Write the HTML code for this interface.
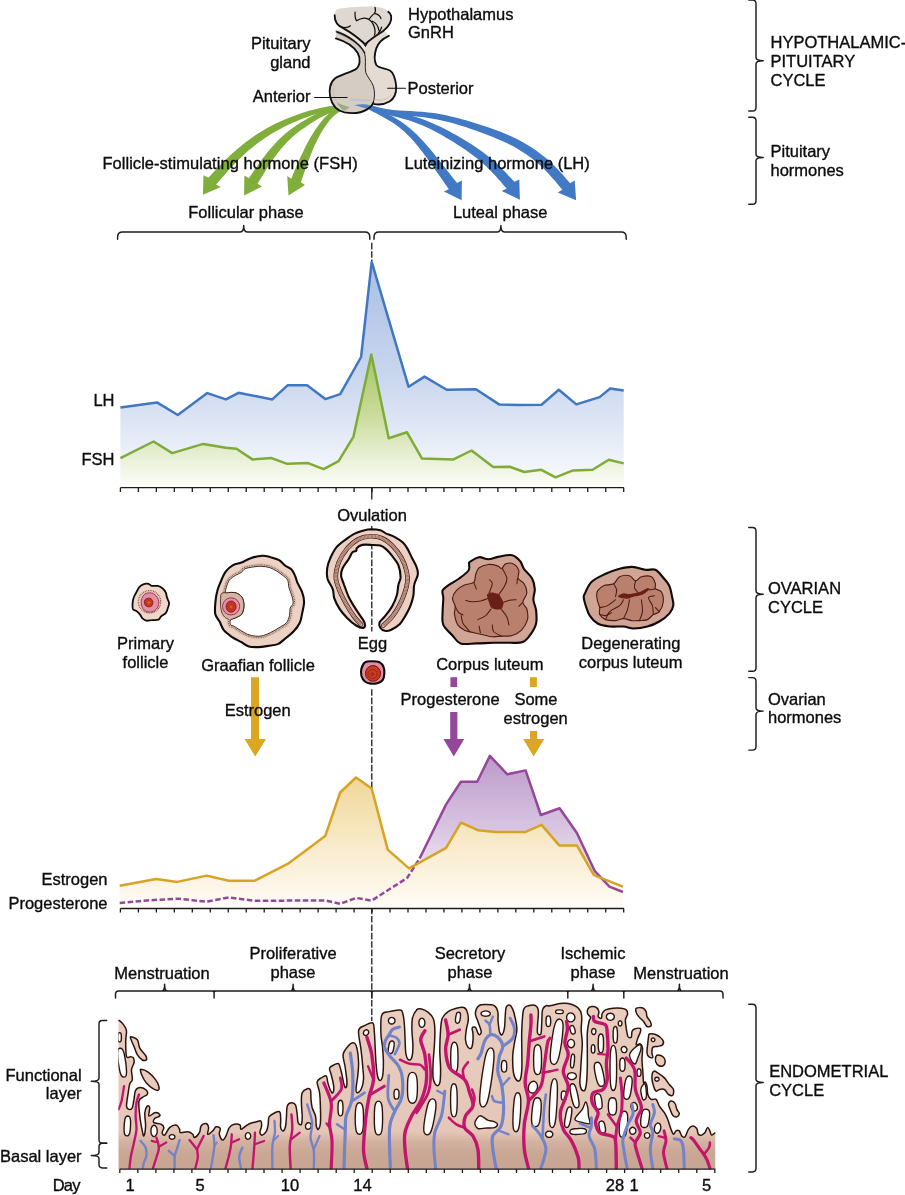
<!DOCTYPE html>
<html lang="en">
<head>
<meta charset="utf-8">
<title>Female reproductive cycle</title>
<style>
html,body{margin:0;padding:0;background:#fff;}
body{width:905px;height:1195px;overflow:hidden;}
svg{display:block;}
text{font-family:"Liberation Sans",Arial,Helvetica,sans-serif;font-size:16.5px;fill:#0c0c0c;stroke:#0c0c0c;stroke-width:0.35px;stroke-linejoin:round;}
.br{fill:none;stroke:#1c1c1c;stroke-width:1.45;stroke-linecap:round;stroke-linejoin:round;}
.ax{fill:none;stroke:#1c1c1c;stroke-width:1.3;}
.dash{fill:none;stroke:#1c1c1c;stroke-width:1.3;stroke-dasharray:6.6 1.8;}
</style>
</head>
<body>
<svg width="905" height="1195" viewBox="0 0 905 1195">
<defs>
<linearGradient id="gLH" x1="0" y1="262" x2="0" y2="488" gradientUnits="userSpaceOnUse">
<stop offset="0" stop-color="#a9bfe6"/><stop offset="0.5" stop-color="#c9d6ee"/><stop offset="1" stop-color="#fbfcfe"/>
</linearGradient>
<linearGradient id="gFSH" x1="0" y1="354" x2="0" y2="488" gradientUnits="userSpaceOnUse">
<stop offset="0" stop-color="#a6c462"/><stop offset="0.45" stop-color="#c9dc9a"/><stop offset="0.78" stop-color="#e9f0d8"/><stop offset="1" stop-color="#fdfefb"/>
</linearGradient>
<linearGradient id="gE" x1="0" y1="777" x2="0" y2="909" gradientUnits="userSpaceOnUse">
<stop offset="0" stop-color="#f0d796"/><stop offset="0.5" stop-color="#f8eaca"/><stop offset="0.85" stop-color="#fdf7ea"/><stop offset="1" stop-color="#fffefb"/>
</linearGradient>
<linearGradient id="gP" x1="0" y1="756" x2="0" y2="880" gradientUnits="userSpaceOnUse">
<stop offset="0" stop-color="#bc9aca"/><stop offset="0.6" stop-color="#d9c6e2"/><stop offset="1" stop-color="#f3ecf5"/>
</linearGradient>
</defs>
<rect width="905" height="1195" fill="#fff"/>

<g>
<polygon fill="#7fae3a" points="351.9,104.3 347.7,104.5 343.5,104.8 339.3,105.1 335.0,105.5 330.8,106.1 326.6,106.7 322.4,107.5 318.3,108.4 314.1,109.4 310.0,110.5 305.9,111.7 301.9,113.0 297.8,114.4 293.8,115.9 289.8,117.4 285.9,119.0 282.0,120.7 278.1,122.5 274.3,124.3 270.5,126.3 266.7,128.3 263.0,130.5 259.3,132.7 255.7,135.1 252.2,137.5 248.7,140.0 245.3,142.6 241.9,145.2 238.6,148.0 235.3,150.8 232.2,153.6 229.0,156.5 226.0,159.5 223.0,162.5 220.0,165.5 217.1,168.6 214.1,171.6 211.2,174.7 208.4,177.8 203.5,175.3 202.9,194.8 220.9,187.1 216.0,184.6 218.8,181.5 221.5,178.3 224.3,175.2 227.0,172.1 229.8,169.0 232.6,166.0 235.4,163.0 238.3,160.1 241.3,157.2 244.2,154.4 247.3,151.6 250.4,149.0 253.6,146.4 256.8,143.8 260.1,141.4 263.5,139.0 266.9,136.7 270.4,134.5 273.9,132.4 277.4,130.4 281.1,128.4 284.7,126.5 288.4,124.7 292.2,123.0 296.0,121.4 299.8,119.8 303.7,118.3 307.6,116.9 311.5,115.6 315.5,114.3 319.5,113.2 323.5,112.1 327.5,111.2 331.5,110.4 335.6,109.7 339.7,109.1 343.8,108.6 348.0,108.2 352.1,107.7"/>
<polygon fill="#7fae3a" points="351.8,104.3 348.5,104.6 345.1,105.0 341.8,105.4 338.5,106.0 335.2,106.6 331.9,107.5 328.6,108.5 325.5,109.7 322.3,111.0 319.2,112.4 316.2,113.9 313.2,115.4 310.2,117.0 307.2,118.7 304.3,120.4 301.4,122.1 298.6,123.9 295.8,125.7 293.0,127.7 290.2,129.7 287.6,131.8 284.9,133.9 282.4,136.2 279.9,138.6 277.5,141.0 275.1,143.4 272.9,146.0 270.6,148.5 268.5,151.1 266.3,153.8 264.3,156.4 262.2,159.1 260.2,161.8 258.3,164.6 256.4,167.3 254.5,170.0 252.6,172.8 250.7,175.5 248.9,178.2 244.4,175.4 244.1,195.4 262.0,186.6 257.5,183.8 259.2,181.0 260.9,178.2 262.7,175.4 264.4,172.6 266.1,169.8 267.9,167.1 269.7,164.4 271.5,161.7 273.3,159.0 275.2,156.4 277.2,153.8 279.1,151.2 281.2,148.7 283.3,146.3 285.4,143.9 287.6,141.6 289.9,139.4 292.2,137.2 294.6,135.1 297.1,133.1 299.6,131.1 302.2,129.2 304.9,127.4 307.6,125.5 310.3,123.8 313.1,122.0 315.9,120.3 318.7,118.6 321.6,117.1 324.4,115.6 327.3,114.2 330.3,112.9 333.3,111.8 336.3,110.9 339.4,110.1 342.5,109.4 345.7,108.8 348.9,108.2 352.2,107.7"/>
<polygon fill="#7fae3a" points="351.7,104.3 349.1,104.7 346.6,105.1 344.0,105.6 341.5,106.3 338.9,107.1 336.5,108.2 334.1,109.6 331.9,111.1 329.8,112.8 327.8,114.6 325.9,116.4 324.1,118.3 322.4,120.3 320.7,122.3 319.1,124.4 317.6,126.4 316.1,128.6 314.7,130.7 313.3,132.9 312.0,135.1 310.6,137.3 309.4,139.5 308.1,141.7 306.9,144.0 305.7,146.3 304.6,148.6 303.5,150.9 302.4,153.2 301.3,155.5 300.2,157.8 299.2,160.1 298.2,162.4 297.1,164.7 296.1,167.1 295.2,169.4 294.2,171.7 293.2,174.0 292.2,176.4 291.3,178.7 287.2,176.0 288.5,195.4 305.0,185.0 300.9,182.3 301.7,179.9 302.5,177.6 303.3,175.2 304.1,172.8 304.9,170.5 305.8,168.1 306.6,165.8 307.4,163.4 308.3,161.1 309.2,158.8 310.1,156.5 311.0,154.2 311.9,151.9 312.9,149.6 313.8,147.3 314.8,145.1 315.9,142.9 317.0,140.7 318.1,138.5 319.2,136.3 320.4,134.1 321.6,132.0 322.8,129.9 324.1,127.9 325.5,125.9 326.9,123.9 328.4,122.0 329.9,120.1 331.5,118.3 333.2,116.6 335.0,114.9 336.8,113.5 338.7,112.2 340.7,111.2 342.8,110.3 345.0,109.5 347.4,108.8 349.8,108.3 352.3,107.7"/>
<polygon fill="#4279c4" points="365.2,107.6 367.9,109.0 370.7,110.5 373.4,111.9 376.2,113.3 378.9,114.8 381.6,116.2 384.3,117.7 386.9,119.2 389.6,120.7 392.1,122.3 394.6,124.0 397.1,125.7 399.4,127.5 401.7,129.4 404.0,131.3 406.1,133.4 408.3,135.5 410.4,137.6 412.4,139.8 414.4,142.1 416.4,144.4 418.3,146.8 420.2,149.2 422.1,151.6 423.9,154.1 425.8,156.5 427.6,159.0 429.4,161.5 431.1,163.9 432.9,166.4 434.7,168.9 436.4,171.5 438.2,174.0 440.0,176.5 441.7,179.0 443.5,181.6 445.2,184.1 447.0,186.6 448.8,189.2 443.9,191.6 461.6,200.3 461.9,180.6 457.0,183.0 455.1,180.6 453.2,178.2 451.3,175.8 449.4,173.3 447.5,170.9 445.6,168.5 443.7,166.1 441.8,163.6 439.9,161.2 438.0,158.8 436.0,156.4 434.1,154.0 432.1,151.6 430.1,149.2 428.1,146.8 426.0,144.4 423.9,142.0 421.8,139.7 419.6,137.4 417.3,135.1 415.1,132.9 412.7,130.8 410.4,128.7 407.9,126.7 405.4,124.7 402.9,122.9 400.2,121.1 397.5,119.4 394.8,117.8 392.1,116.3 389.3,114.9 386.5,113.5 383.6,112.2 380.8,110.9 378.0,109.6 375.2,108.3 372.4,107.0 369.6,105.7 366.8,104.4"/>
<polygon fill="#4279c4" points="365.4,107.6 369.4,109.2 373.5,110.7 377.7,112.0 381.9,113.3 386.1,114.4 390.3,115.5 394.5,116.5 398.6,117.6 402.8,118.7 406.8,119.8 410.9,121.1 414.9,122.4 418.8,123.9 422.7,125.6 426.5,127.3 430.4,129.1 434.2,131.0 437.9,133.0 441.7,135.1 445.4,137.2 449.1,139.4 452.8,141.6 456.4,143.9 460.0,146.2 463.6,148.5 467.1,150.9 470.5,153.4 473.9,155.9 477.2,158.5 480.4,161.2 483.5,163.9 486.6,166.8 489.6,169.7 492.5,172.7 495.4,175.8 498.2,178.9 501.0,182.1 503.8,185.4 506.7,188.6 501.7,190.9 519.9,199.8 519.3,179.5 514.3,181.8 511.4,178.6 508.4,175.4 505.4,172.3 502.3,169.1 499.2,166.1 496.0,163.0 492.7,160.1 489.4,157.2 485.9,154.4 482.4,151.7 478.8,149.2 475.2,146.7 471.5,144.3 467.8,141.9 464.1,139.7 460.3,137.4 456.5,135.3 452.6,133.2 448.8,131.1 444.9,129.1 441.0,127.1 437.0,125.2 433.0,123.4 429.0,121.7 424.9,120.0 420.8,118.5 416.7,117.2 412.5,115.9 408.2,114.8 404.0,113.8 399.7,112.8 395.5,111.9 391.3,111.0 387.1,110.1 382.9,109.2 378.8,108.2 374.7,107.0 370.7,105.8 366.6,104.4"/>
<polygon fill="#4279c4" points="365.3,106.6 370.6,108.9 376.1,110.8 381.7,112.2 387.4,113.4 393.1,114.3 398.8,114.9 404.6,115.5 410.4,116.0 416.1,116.5 421.8,117.1 427.4,117.8 432.9,118.7 438.5,119.7 443.9,120.9 449.4,122.3 454.8,123.8 460.2,125.4 465.6,127.1 471.0,128.9 476.4,130.8 481.7,132.7 487.0,134.7 492.3,136.8 497.5,138.9 502.7,141.2 507.7,143.6 512.7,146.1 517.5,148.8 522.2,151.7 526.8,154.7 531.3,158.0 535.6,161.4 539.8,165.1 543.8,168.8 547.7,172.8 551.4,176.9 555.1,181.1 558.7,185.4 562.3,189.8 557.7,192.6 576.1,200.3 574.7,180.4 570.1,183.2 566.4,178.9 562.6,174.5 558.6,170.3 554.5,166.1 550.3,162.0 545.9,158.1 541.3,154.4 536.5,150.8 531.7,147.5 526.7,144.4 521.6,141.5 516.4,138.8 511.1,136.3 505.8,134.0 500.4,131.8 495.0,129.8 489.5,127.8 484.1,126.0 478.6,124.2 473.1,122.4 467.6,120.8 462.0,119.2 456.5,117.7 450.9,116.4 445.2,115.1 439.5,114.1 433.8,113.1 428.1,112.4 422.3,111.8 416.5,111.4 410.7,111.1 404.9,110.8 399.2,110.4 393.6,109.9 388.0,109.2 382.6,108.3 377.2,107.1 371.9,105.4 366.7,103.4"/>
</g>

<g transform="translate(310,0) scale(0.132597)" stroke-linecap="round" stroke-linejoin="round">
<!-- anterior lobe + stalk left fill -->
<path fill="#d5cdc4" d="M195,290 C260,310 330,350 360,400 C385,445 378,500 340,525 C290,550 230,565 190,590 C150,620 142,680 152,730 C165,790 200,835 260,848 C320,858 390,850 430,825 C455,810 470,795 478,775 C490,740 490,690 478,650 C465,610 430,580 420,545 C412,500 425,440 412,400 L415,335 L240,212 L200,238 Z"/>
<!-- posterior lobe + stalk right fill -->
<path fill="#e4dbd2" d="M595,270 C550,290 515,320 500,365 C485,410 485,460 500,490 C520,515 570,515 600,530 C635,550 645,600 650,650 C652,700 640,740 600,765 C565,785 520,792 485,785 L478,775 C490,740 490,690 478,650 C465,610 430,580 420,545 C412,500 425,440 412,400 L415,335 L560,232 Z"/>
<path fill="#ece8e2" d="M200,238 C290,270 380,330 412,400 L416,338 L240,212 Z"/>
<!-- shading inside lobes -->
<path fill="none" stroke="#bcb4aa" stroke-width="5" d="M178,640 C170,700 185,780 250,822 M490,748 C530,765 580,755 612,715"/>
<path fill="#e8c9a4" opacity="0.55" d="M290,722 L450,730 L455,745 L300,740 Z"/>
<path fill="#b6c3cf" opacity="0.8" d="M300,742 L455,748 L450,765 L310,760 Z"/>
<path fill="#8fa66a" opacity="0.8" d="M205,775 C240,790 270,800 300,808 L260,835 C235,822 215,800 205,775 Z"/>
<path fill="#4a80c0" opacity="0.9" d="M335,792 C380,782 425,785 460,795 L440,822 C405,815 370,805 335,792 Z"/>
<!-- outlines -->
<path fill="none" stroke="#111" stroke-width="7" d="M412,400 C425,440 412,500 420,545 C430,580 465,610 478,650 C490,690 490,740 475,780"/>
<path fill="#111" stroke="#111" stroke-width="3" d="M198,232 C290,262 382,326 416,398 L409,403 C378,338 288,278 200,246 Z"/>
<path fill="none" stroke="#111" stroke-width="14" d="M195,290 C260,310 330,350 360,400 C385,445 378,500 340,525 C290,550 230,565 190,590 C150,620 142,680 152,730 C165,790 200,835 260,848 C320,858 390,850 430,825 C455,810 470,795 478,775"/>
<path fill="none" stroke="#111" stroke-width="14" d="M595,270 C550,290 515,320 500,365 C485,410 485,460 500,490 C520,515 570,515 600,530 C635,550 645,600 650,650 C652,700 640,740 600,765 C565,785 520,792 485,785"/>
<!-- hypothalamus -->
<path fill="#dfd8d0" d="M200,72 C260,55 420,45 500,52 C560,55 600,80 615,120 C620,165 590,215 540,245 L415,335 L240,212 C200,185 180,140 188,110 C190,90 195,78 200,72 Z"/>
<path fill="none" stroke="#111" stroke-width="14" d="M186,115 C185,160 210,195 250,212 C300,240 370,290 415,335 C455,295 520,255 550,235 C590,205 618,160 612,120 C608,105 600,95 590,88"/>
<path fill="#111" stroke="#111" stroke-width="6" d="M395,310 L418,352 L442,308 L418,330 Z"/>
<path fill="none" stroke="#111" stroke-width="9.5" d="M340,92 C338,125 342,145 352,157 C375,138 420,128 450,150 C470,165 485,195 490,225 C492,245 490,255 486,265 M490,55 C496,75 494,90 486,100 C510,105 530,120 535,140 M445,145 C460,125 475,108 490,100 M540,205 C535,225 525,240 515,250 M240,205 C265,212 290,207 305,195 M470,160 C495,170 515,195 520,230"/>
<!-- leader lines -->
<path fill="none" stroke="#111" stroke-width="8" d="M35,735 H280 M585,665 H720"/>
</g>

<text x="408" y="19.5">Hypothalamus</text>
<text x="408" y="37.7">GnRH</text>
<text x="310.5" y="49.2" text-anchor="end">Pituitary</text>
<text x="310.5" y="67.6" text-anchor="end">gland</text>
<text x="310.5" y="101.6" text-anchor="end">Anterior</text>
<text x="407.5" y="94.2">Posterior</text>
<text x="102.4" y="169.2" textLength="255.3" lengthAdjust="spacing">Follicle-stimulating hormone (FSH)</text>
<text x="404.5" y="169.2">Luteinizing hormone (LH)</text>
<text x="246" y="217.6" text-anchor="middle">Follicular phase</text>
<text x="500.2" y="217.6" text-anchor="middle">Luteal phase</text>
<path class="br" d="M117.6,239.3 V236.9 Q117.6,231.9 122.6,231.9 H240.29999999999998 Q243.7,231.9 243.7,225.5 Q243.7,231.9 247.1,231.9 H364.8 Q369.8,231.9 369.8,236.9 V239.3"/>
<path class="br" d="M374,239.3 V236.9 Q374,231.9 379,231.9 H497.5 Q500.9,231.9 500.9,225.5 Q500.9,231.9 504.29999999999995,231.9 H621.2 Q626.2,231.9 626.2,236.9 V239.3"/>
<path class="br" d="M748.8,0 H752.4 Q756,0 756,3.6 V57.5 Q756,60.7 763.2,60.7 Q756,60.7 756,63.900000000000006 V107.4 Q756,111 752.4,111 H748.8"/>
<path class="br" d="M748.8,117.3 H752.4 Q756,117.3 756,120.89999999999999 V154.20000000000002 Q756,157.4 763.2,157.4 Q756,157.4 756,160.6 V200.70000000000002 Q756,204.3 752.4,204.3 H748.8"/>
<text x="770.5" y="48.2">HYPOTHALAMIC-</text>
<text x="770.5" y="66.8">PITUITARY</text>
<text x="770.5" y="85.6">CYCLE</text>
<text x="770.5" y="156.8">Pituitary</text>
<text x="770.5" y="175.6">hormones</text>
<polygon fill="url(#gLH)" points="120.4,407.4 156.9,402.4 177.8,415 207.3,393.1 225.9,399.4 238.5,392.8 272.3,399.4 287.8,385.2 307.1,385.2 325.3,399.1 340.2,394.1 361.1,357 371.7,261.9 408.6,386.8 424.5,376.6 446.7,389.8 475.9,389.2 499.1,404.4 519,405.1 541.5,404.7 558.8,389.8 576.3,404.4 599.6,397.1 610.2,388.5 623.7,390.5 623.7,487.7 120.4,487.7"/>
<polygon fill="url(#gFSH)" points="120.4,458.1 153.6,441.5 172.2,453.1 203.3,443.9 225.9,447.8 236.5,448.8 252.4,459.4 271.6,458.1 287.2,463.8 308.1,463.1 323.6,469.1 338.6,461.1 353.5,436.6 371.3,354.4 388.7,438.2 407,432.3 421.9,458.4 453.4,459.4 471.6,450.5 493.2,467.1 509.7,466.7 524.3,472 540.9,469.7 555.5,477.3 573,470.4 592.6,469.7 608.8,459.8 623.7,463.4 623.7,487.7 120.4,487.7"/>
<polyline fill="none" stroke="#3f78c1" stroke-width="2.5" stroke-linejoin="round" points="120.4,407.4 156.9,402.4 177.8,415 207.3,393.1 225.9,399.4 238.5,392.8 272.3,399.4 287.8,385.2 307.1,385.2 325.3,399.1 340.2,394.1 361.1,357 371.7,261.9 408.6,386.8 424.5,376.6 446.7,389.8 475.9,389.2 499.1,404.4 519,405.1 541.5,404.7 558.8,389.8 576.3,404.4 599.6,397.1 610.2,388.5 623.7,390.5"/>
<polyline fill="none" stroke="#7fab38" stroke-width="2.5" stroke-linejoin="round" points="120.4,458.1 153.6,441.5 172.2,453.1 203.3,443.9 225.9,447.8 236.5,448.8 252.4,459.4 271.6,458.1 287.2,463.8 308.1,463.1 323.6,469.1 338.6,461.1 353.5,436.6 371.3,354.4 388.7,438.2 407,432.3 421.9,458.4 453.4,459.4 471.6,450.5 493.2,467.1 509.7,466.7 524.3,472 540.9,469.7 555.5,477.3 573,470.4 592.6,469.7 608.8,459.8 623.7,463.4"/>
<path class="ax" d="M120.4,487.7 L623.9,487.7 M120.40,487.7 v4.2 M138.38,487.7 v4.2 M156.35,487.7 v4.2 M174.33,487.7 v4.2 M192.30,487.7 v4.2 M210.28,487.7 v4.2 M228.25,487.7 v4.2 M246.23,487.7 v4.2 M264.20,487.7 v4.2 M282.18,487.7 v4.2 M300.15,487.7 v4.2 M318.13,487.7 v4.2 M336.10,487.7 v4.2 M354.08,487.7 v4.2 M372.05,487.7 v4.2 M390.03,487.7 v4.2 M408.00,487.7 v4.2 M425.98,487.7 v4.2 M443.95,487.7 v4.2 M461.93,487.7 v4.2 M479.90,487.7 v4.2 M497.88,487.7 v4.2 M515.85,487.7 v4.2 M533.83,487.7 v4.2 M551.80,487.7 v4.2 M569.78,487.7 v4.2 M587.75,487.7 v4.2 M605.73,487.7 v4.2 M623.70,487.7 v4.2"/>
<text x="114.5" y="405.6" text-anchor="end">LH</text>
<text x="114.5" y="465.4" text-anchor="end">FSH</text>
<path class="dash" d="M371.8,242.8 V261"/>
<path class="ax" d="M371.8,488 V499.4"/>
<path class="dash" d="M371.8,526 V631.5"/>
<path class="dash" d="M371.8,689.2 V1021"/>
<text x="372" y="521.4" text-anchor="middle">Ovulation</text>
<g>
<path fill="#eed6c9" stroke="#120a08" stroke-width="1.8" stroke-linejoin="round" d="M143.2,584.3 C144.8,583.7 147.1,583.6 148.5,583.9 C149.9,584.2 150.3,585.6 151.8,585.9 C153.4,586.2 156.0,585.5 157.8,585.9 C159.6,586.3 161.1,587.1 162.4,588.2 C163.8,589.3 165.0,590.9 165.7,592.5 C166.5,594.1 166.5,596.1 167.1,597.8 C167.6,599.6 169.0,601.4 169.1,603.1 C169.2,604.9 168.3,606.8 167.7,608.5 C167.2,610.1 166.9,611.8 165.7,613.1 C164.6,614.4 162.3,615.3 161.1,616.4 C159.9,617.5 160.0,619.1 158.5,619.7 C156.9,620.3 153.8,619.9 151.8,620.1 C149.8,620.2 148.1,621.0 146.5,620.7 C145.0,620.4 143.6,619.4 142.5,618.4 C141.4,617.3 140.9,615.6 139.9,614.4 C138.9,613.2 137.7,612.0 136.6,611.1 C135.4,610.2 133.6,610.4 132.9,609.1 C132.3,607.8 132.5,605.0 132.6,603.1 C132.7,601.3 133.0,599.5 133.6,597.8 C134.1,596.2 135.0,595.0 135.9,593.2 C136.9,591.4 138.0,588.7 139.2,587.2 C140.4,585.7 141.7,584.8 143.2,584.3 Z"/>
<circle cx="149.5" cy="601.8" r="11.2" fill="none" stroke="#7a3a34" stroke-width="1.2" stroke-dasharray="0.8 0.9"/>
<circle cx="149.5" cy="601.8" r="9.6" fill="none" stroke="#b07068" stroke-width="0.8" stroke-dasharray="0.6 1.1"/>
<path fill="#e290a6" stroke="#9a2a48" stroke-width="0.9" d="M149.2,592.9 C150.4,592.9 151.8,592.8 153.1,593.5 C154.5,594.3 156.2,595.8 157.1,597.2 C158.1,598.6 158.7,600.2 158.8,601.8 C158.9,603.5 158.5,605.6 157.8,607.1 C157.1,608.6 155.9,609.9 154.5,610.8 C153.0,611.6 150.8,612.2 149.2,612.1 C147.5,612.0 145.7,611.4 144.5,610.4 C143.3,609.5 142.4,608.0 141.9,606.5 C141.3,604.9 141.0,602.9 141.2,601.2 C141.4,599.4 142.1,597.5 142.9,596.2 C143.6,594.9 144.8,594.1 145.9,593.5 C146.9,593.0 148.0,592.9 149.2,592.9 Z"/>
<path fill="#c2361f" stroke="#8e1418" stroke-width="0.9" d="M148.5,598.2 C149.6,598.1 150.8,598.5 151.5,599.2 C152.2,599.8 152.8,601.0 152.8,602.2 C152.9,603.3 152.4,605.0 151.8,605.8 C151.2,606.6 150.1,606.7 149.2,606.8 C148.2,606.9 147.0,606.7 146.2,606.1 C145.4,605.5 144.7,604.3 144.5,603.1 C144.4,602.0 144.5,600.3 145.2,599.5 C145.9,598.7 147.5,598.2 148.5,598.2 Z"/>
<circle cx="148.8" cy="602.5" r="1.6" fill="#dc5a28"/>
<path fill="#ecd2c5" stroke="#120a08" stroke-width="2.1" stroke-linejoin="round" d="M262.1,555.7 C265.6,555.5 267.8,556.4 270.6,557.2 C273.5,557.9 276.7,558.8 279.1,560.2 C281.6,561.6 283.2,564.1 285.2,565.7 C287.2,567.2 289.7,567.7 291.3,569.3 C292.9,570.9 293.9,573.2 294.9,575.4 C296.0,577.6 296.2,579.8 297.4,582.7 C298.6,585.5 301.1,589.2 302.2,592.4 C303.4,595.6 304.1,598.7 304.1,602.1 C304.1,605.6 302.9,609.6 302.2,613.1 C301.5,616.5 301.2,619.8 299.8,622.8 C298.4,625.8 296.2,628.7 293.7,631.3 C291.3,633.9 287.9,636.5 285.2,638.6 C282.6,640.7 280.8,642.8 277.9,644.1 C275.1,645.3 271.4,645.4 268.2,645.9 C265.0,646.4 261.7,647.0 258.5,647.1 C255.2,647.2 251.6,647.3 248.8,646.5 C245.9,645.7 244.3,643.9 241.5,642.2 C238.6,640.6 234.7,638.8 231.7,636.8 C228.8,634.7 225.9,632.6 223.8,630.1 C221.8,627.6 221.0,624.2 219.6,621.6 C218.2,618.9 216.0,617.3 215.3,614.3 C214.6,611.2 215.0,607.2 215.3,603.3 C215.6,599.5 216.2,594.8 217.2,591.2 C218.1,587.5 219.4,584.7 220.8,581.5 C222.2,578.2 223.6,574.5 225.7,571.7 C227.7,569.0 230.3,566.6 233.0,565.1 C235.6,563.5 238.6,563.7 241.5,562.6 C244.3,561.5 246.5,559.5 250.0,558.4 C253.4,557.2 258.7,555.9 262.1,555.7 Z"/>
<path fill="none" stroke="#dcbfb0" stroke-width="6.4" stroke-linejoin="round" d="M260.9,566.3 C263.5,566.4 266.8,566.7 269.4,567.5 C272.1,568.3 274.5,569.8 276.7,571.1 C278.9,572.4 281.0,573.9 282.8,575.4 C284.6,576.9 286.6,578.2 287.7,580.2 C288.7,582.3 288.2,584.9 288.9,587.5 C289.6,590.2 291.2,593.4 291.9,596.0 C292.6,598.7 293.4,601.3 293.1,603.3 C292.8,605.4 290.7,606.2 290.1,608.2 C289.5,610.2 290.1,613.1 289.5,615.5 C288.9,617.9 288.2,620.8 286.4,622.8 C284.7,624.8 281.8,626.0 279.1,627.7 C276.5,629.3 273.3,631.2 270.6,632.5 C268.0,633.8 265.8,634.9 263.3,635.6 C260.9,636.2 258.7,636.4 256.0,636.2 C253.4,636.0 250.2,635.3 247.5,634.3 C244.9,633.3 242.5,631.4 240.2,630.1 C238.0,628.8 235.8,627.3 234.2,626.4 C232.6,625.5 231.1,625.7 230.5,624.6 C229.9,623.5 229.7,620.9 230.5,619.8 C231.3,618.6 233.6,618.8 235.4,617.9 C237.2,617.0 240.0,616.1 241.5,614.3 C242.9,612.5 243.7,609.6 243.9,607.0 C244.1,604.4 243.7,600.7 242.7,598.5 C241.7,596.3 239.6,594.6 237.8,593.6 C236.0,592.6 233.8,592.5 231.7,592.4 C229.7,592.3 226.6,593.8 225.7,593.0 C224.8,592.2 225.7,589.7 226.3,587.5 C226.9,585.4 227.8,582.3 229.3,580.2 C230.8,578.2 233.4,576.7 235.4,575.4 C237.4,574.1 239.8,573.5 241.5,572.3 C243.1,571.2 243.1,569.6 245.1,568.7 C247.1,567.8 251.0,567.3 253.6,566.9 C256.3,566.5 258.3,566.2 260.9,566.3 Z"/>
<path fill="none" stroke="#6e3f36" stroke-width="3.8" stroke-dasharray="0.7 0.9" stroke-linejoin="round" d="M260.9,566.3 C263.5,566.4 266.8,566.7 269.4,567.5 C272.1,568.3 274.5,569.8 276.7,571.1 C278.9,572.4 281.0,573.9 282.8,575.4 C284.6,576.9 286.6,578.2 287.7,580.2 C288.7,582.3 288.2,584.9 288.9,587.5 C289.6,590.2 291.2,593.4 291.9,596.0 C292.6,598.7 293.4,601.3 293.1,603.3 C292.8,605.4 290.7,606.2 290.1,608.2 C289.5,610.2 290.1,613.1 289.5,615.5 C288.9,617.9 288.2,620.8 286.4,622.8 C284.7,624.8 281.8,626.0 279.1,627.7 C276.5,629.3 273.3,631.2 270.6,632.5 C268.0,633.8 265.8,634.9 263.3,635.6 C260.9,636.2 258.7,636.4 256.0,636.2 C253.4,636.0 250.2,635.3 247.5,634.3 C244.9,633.3 242.5,631.4 240.2,630.1 C238.0,628.8 235.8,627.3 234.2,626.4 C232.6,625.5 231.1,625.7 230.5,624.6 C229.9,623.5 229.7,620.9 230.5,619.8 C231.3,618.6 233.6,618.8 235.4,617.9 C237.2,617.0 240.0,616.1 241.5,614.3 C242.9,612.5 243.7,609.6 243.9,607.0 C244.1,604.4 243.7,600.7 242.7,598.5 C241.7,596.3 239.6,594.6 237.8,593.6 C236.0,592.6 233.8,592.5 231.7,592.4 C229.7,592.3 226.6,593.8 225.7,593.0 C224.8,592.2 225.7,589.7 226.3,587.5 C226.9,585.4 227.8,582.3 229.3,580.2 C230.8,578.2 233.4,576.7 235.4,575.4 C237.4,574.1 239.8,573.5 241.5,572.3 C243.1,571.2 243.1,569.6 245.1,568.7 C247.1,567.8 251.0,567.3 253.6,566.9 C256.3,566.5 258.3,566.2 260.9,566.3 Z"/>
<path fill="none" stroke="#dcbfb0" stroke-width="2.2" stroke-linejoin="round" d="M260.9,566.3 C263.5,566.4 266.8,566.7 269.4,567.5 C272.1,568.3 274.5,569.8 276.7,571.1 C278.9,572.4 281.0,573.9 282.8,575.4 C284.6,576.9 286.6,578.2 287.7,580.2 C288.7,582.3 288.2,584.9 288.9,587.5 C289.6,590.2 291.2,593.4 291.9,596.0 C292.6,598.7 293.4,601.3 293.1,603.3 C292.8,605.4 290.7,606.2 290.1,608.2 C289.5,610.2 290.1,613.1 289.5,615.5 C288.9,617.9 288.2,620.8 286.4,622.8 C284.7,624.8 281.8,626.0 279.1,627.7 C276.5,629.3 273.3,631.2 270.6,632.5 C268.0,633.8 265.8,634.9 263.3,635.6 C260.9,636.2 258.7,636.4 256.0,636.2 C253.4,636.0 250.2,635.3 247.5,634.3 C244.9,633.3 242.5,631.4 240.2,630.1 C238.0,628.8 235.8,627.3 234.2,626.4 C232.6,625.5 231.1,625.7 230.5,624.6 C229.9,623.5 229.7,620.9 230.5,619.8 C231.3,618.6 233.6,618.8 235.4,617.9 C237.2,617.0 240.0,616.1 241.5,614.3 C242.9,612.5 243.7,609.6 243.9,607.0 C244.1,604.4 243.7,600.7 242.7,598.5 C241.7,596.3 239.6,594.6 237.8,593.6 C236.0,592.6 233.8,592.5 231.7,592.4 C229.7,592.3 226.6,593.8 225.7,593.0 C224.8,592.2 225.7,589.7 226.3,587.5 C226.9,585.4 227.8,582.3 229.3,580.2 C230.8,578.2 233.4,576.7 235.4,575.4 C237.4,574.1 239.8,573.5 241.5,572.3 C243.1,571.2 243.1,569.6 245.1,568.7 C247.1,567.8 251.0,567.3 253.6,566.9 C256.3,566.5 258.3,566.2 260.9,566.3 Z"/>
<path fill="#d6b4a4" stroke="#3a1a12" stroke-width="0.8" d="M221.4,593.6 C222.3,592.6 223.9,592.9 225.7,592.6 C227.4,592.4 229.7,592.0 231.7,592.2 C233.8,592.3 236.0,592.3 237.8,593.4 C239.6,594.4 241.6,596.2 242.7,598.5 C243.7,600.7 244.3,604.3 244.1,607.0 C243.9,609.7 242.9,612.7 241.5,614.5 C240.0,616.4 237.2,617.4 235.4,618.2 C233.6,619.0 232.1,619.4 230.5,619.4 C228.9,619.3 227.1,619.0 225.7,617.9 C224.2,616.9 222.9,615.1 222.0,613.1 C221.2,611.0 220.8,608.2 220.6,605.8 C220.3,603.3 220.4,600.5 220.6,598.5 C220.7,596.5 220.6,594.6 221.4,593.6 Z"/>
<path fill="#fff" stroke="#2a1610" stroke-width="0.9" stroke-linejoin="round" d="M260.9,566.3 C263.5,566.4 266.8,566.7 269.4,567.5 C272.1,568.3 274.5,569.8 276.7,571.1 C278.9,572.4 281.0,573.9 282.8,575.4 C284.6,576.9 286.6,578.2 287.7,580.2 C288.7,582.3 288.2,584.9 288.9,587.5 C289.6,590.2 291.2,593.4 291.9,596.0 C292.6,598.7 293.4,601.3 293.1,603.3 C292.8,605.4 290.7,606.2 290.1,608.2 C289.5,610.2 290.1,613.1 289.5,615.5 C288.9,617.9 288.2,620.8 286.4,622.8 C284.7,624.8 281.8,626.0 279.1,627.7 C276.5,629.3 273.3,631.2 270.6,632.5 C268.0,633.8 265.8,634.9 263.3,635.6 C260.9,636.2 258.7,636.4 256.0,636.2 C253.4,636.0 250.2,635.3 247.5,634.3 C244.9,633.3 242.5,631.4 240.2,630.1 C238.0,628.8 235.8,627.3 234.2,626.4 C232.6,625.5 231.1,625.7 230.5,624.6 C229.9,623.5 229.7,620.9 230.5,619.8 C231.3,618.6 233.6,618.8 235.4,617.9 C237.2,617.0 240.0,616.1 241.5,614.3 C242.9,612.5 243.7,609.6 243.9,607.0 C244.1,604.4 243.7,600.7 242.7,598.5 C241.7,596.3 239.6,594.6 237.8,593.6 C236.0,592.6 233.8,592.5 231.7,592.4 C229.7,592.3 226.6,593.8 225.7,593.0 C224.8,592.2 225.7,589.7 226.3,587.5 C226.9,585.4 227.8,582.3 229.3,580.2 C230.8,578.2 233.4,576.7 235.4,575.4 C237.4,574.1 239.8,573.5 241.5,572.3 C243.1,571.2 243.1,569.6 245.1,568.7 C247.1,567.8 251.0,567.3 253.6,566.9 C256.3,566.5 258.3,566.2 260.9,566.3 Z"/>
<path fill="#d6b4a4" d="M225.7,593.0 C227.3,592.0 229.7,592.3 231.7,592.4 C233.8,592.5 236.0,592.6 237.8,593.6 C239.6,594.6 241.7,596.3 242.7,598.5 C243.7,600.7 244.1,604.4 243.9,607.0 C243.7,609.6 242.9,612.5 241.5,614.3 C240.0,616.1 237.2,617.0 235.4,617.9 C233.6,618.8 231.8,619.8 230.5,619.8 C229.2,619.8 228.7,619.0 227.5,617.9 C226.3,616.8 224.2,615.1 223.2,613.1 C222.2,611.0 221.6,608.2 221.4,605.8 C221.2,603.3 221.3,600.6 222.0,598.5 C222.7,596.4 224.0,594.0 225.7,593.0 Z"/>
<path fill="none" stroke="#2a1610" stroke-width="0.9" d="M225.7,593.0 C226.7,592.9 229.7,592.3 231.7,592.4 C233.8,592.5 236.0,592.6 237.8,593.6 C239.6,594.6 241.7,596.3 242.7,598.5 C243.7,600.7 244.1,604.4 243.9,607.0 C243.7,609.6 242.9,612.5 241.5,614.3 C240.0,616.1 237.2,617.0 235.4,617.9 C233.6,618.8 231.3,619.4 230.5,619.8"/>
<circle cx="231.1" cy="606.4" r="8.6" fill="#e290a6" stroke="#9a2a48" stroke-width="0.9"/>
<ellipse cx="231.1" cy="606.6" rx="5" ry="5.6" fill="#c2361f" stroke="#8e1418" stroke-width="0.9"/>
<circle cx="231.1" cy="606.9" r="1.3" fill="#dc5a28"/>
<path fill="#ebd0c3" stroke="#120a08" stroke-width="2.1" stroke-linejoin="round" d="M363.7,627.7 C362.3,628.2 358.9,627.1 356.2,625.5 C353.4,623.8 349.9,620.7 347.1,617.9 C344.4,615.2 341.7,612.2 339.6,608.9 C337.5,605.6 335.4,601.6 334.3,598.4 C333.2,595.1 333.9,592.6 332.8,589.3 C331.7,586.1 328.5,582.3 327.5,578.8 C326.6,575.3 326.7,571.7 327.2,568.2 C327.7,564.7 329.0,561.2 330.5,557.7 C332.1,554.2 334.1,550.1 336.6,547.1 C339.1,544.1 342.6,541.8 345.6,539.6 C348.6,537.3 351.6,535.1 354.7,533.6 C357.7,532.1 360.9,531.3 363.7,530.5 C366.5,529.8 368.5,529.4 371.2,529.3 C374.0,529.3 377.8,529.5 380.3,530.2 C382.8,530.9 383.8,532.4 386.3,533.6 C388.8,534.7 392.6,535.8 395.3,537.3 C398.1,538.8 400.9,540.7 402.9,542.6 C404.9,544.5 405.9,546.1 407.4,548.6 C408.9,551.1 410.4,554.7 411.9,557.7 C413.4,560.7 415.4,563.9 416.4,566.7 C417.4,569.5 418.3,571.2 417.9,574.2 C417.6,577.3 414.9,581.3 414.2,584.8 C413.4,588.3 414.1,591.8 413.4,595.3 C412.8,598.9 411.7,602.6 410.4,605.9 C409.2,609.2 407.6,611.9 405.9,614.9 C404.1,617.9 402.4,621.5 399.9,624.0 C397.4,626.5 393.3,628.9 390.8,630.0 C388.3,631.1 386.6,631.1 384.8,630.8 C383.0,630.4 381.2,629.1 380.3,627.7 C379.4,626.4 378.8,624.3 379.5,622.5 C380.3,620.6 382.7,619.2 384.8,616.4 C386.9,613.7 390.3,609.4 392.3,605.9 C394.3,602.4 395.8,598.9 396.8,595.3 C397.9,591.8 397.7,587.8 398.4,584.8 C399.0,581.8 400.6,580.5 400.6,577.3 C400.6,574.0 399.7,568.7 398.4,565.2 C397.0,561.7 394.3,558.8 392.3,556.2 C390.3,553.5 388.3,551.1 386.3,549.4 C384.3,547.6 382.8,546.4 380.3,545.6 C377.8,544.9 374.2,545.0 371.2,544.9 C368.2,544.7 364.6,544.4 362.2,544.9 C359.8,545.4 357.9,546.9 356.9,547.9 C355.9,548.9 356.9,550.1 356.2,550.9 C355.4,551.6 353.7,551.0 352.4,552.4 C351.1,553.8 350.3,556.5 348.6,559.2 C347.0,561.8 343.9,565.5 342.6,568.2 C341.3,571.0 340.8,573.0 341.1,575.8 C341.3,578.5 342.9,581.3 344.1,584.8 C345.4,588.3 346.9,593.1 348.6,596.8 C350.4,600.6 352.6,604.1 354.7,607.4 C356.7,610.7 359.1,613.9 360.7,616.4 C362.3,618.9 363.9,620.6 364.5,622.5 C365.0,624.3 365.1,627.2 363.7,627.7 Z"/>
<path fill="none" stroke="#3a1a12" stroke-width="4.6" stroke-linecap="round" d="M361.0,624.3 C359.8,623.0 356.3,619.8 353.9,616.4 C351.5,613.1 348.8,608.7 346.4,604.4 C344.0,600.1 341.3,595.3 339.6,590.8 C337.8,586.3 335.9,582.0 335.8,577.3 C335.7,572.5 337.0,567.0 338.8,562.2 C340.7,557.4 344.0,552.4 347.1,548.6 C350.3,544.9 353.9,541.6 357.7,539.6 C361.4,537.5 365.7,536.5 369.7,536.3 C373.7,536.0 378.0,536.5 381.8,538.1 C385.5,539.6 389.1,542.4 392.3,545.6 C395.6,548.9 399.0,553.4 401.4,557.7 C403.8,561.9 405.6,567.2 406.6,571.2 C407.6,575.3 407.8,578.0 407.4,581.8 C407.0,585.5 405.8,589.8 404.4,593.8 C403.0,597.9 401.1,602.1 399.1,605.9 C397.1,609.7 395.0,613.2 392.3,616.4 C389.7,619.7 384.8,624.0 383.3,625.5"/>
<path fill="none" stroke="#d2ada0" stroke-width="3.2" stroke-linecap="round" d="M361.0,624.3 C359.8,623.0 356.3,619.8 353.9,616.4 C351.5,613.1 348.8,608.7 346.4,604.4 C344.0,600.1 341.3,595.3 339.6,590.8 C337.8,586.3 335.9,582.0 335.8,577.3 C335.7,572.5 337.0,567.0 338.8,562.2 C340.7,557.4 344.0,552.4 347.1,548.6 C350.3,544.9 353.9,541.6 357.7,539.6 C361.4,537.5 365.7,536.5 369.7,536.3 C373.7,536.0 378.0,536.5 381.8,538.1 C385.5,539.6 389.1,542.4 392.3,545.6 C395.6,548.9 399.0,553.4 401.4,557.7 C403.8,561.9 405.6,567.2 406.6,571.2 C407.6,575.3 407.8,578.0 407.4,581.8 C407.0,585.5 405.8,589.8 404.4,593.8 C403.0,597.9 401.1,602.1 399.1,605.9 C397.1,609.7 395.0,613.2 392.3,616.4 C389.7,619.7 384.8,624.0 383.3,625.5"/>
<path fill="none" stroke="#8a584c" stroke-width="3.0" stroke-dasharray="0.6 0.8" d="M361.0,624.3 C359.8,623.0 356.3,619.8 353.9,616.4 C351.5,613.1 348.8,608.7 346.4,604.4 C344.0,600.1 341.3,595.3 339.6,590.8 C337.8,586.3 335.9,582.0 335.8,577.3 C335.7,572.5 337.0,567.0 338.8,562.2 C340.7,557.4 344.0,552.4 347.1,548.6 C350.3,544.9 353.9,541.6 357.7,539.6 C361.4,537.5 365.7,536.5 369.7,536.3 C373.7,536.0 378.0,536.5 381.8,538.1 C385.5,539.6 389.1,542.4 392.3,545.6 C395.6,548.9 399.0,553.4 401.4,557.7 C403.8,561.9 405.6,567.2 406.6,571.2 C407.6,575.3 407.8,578.0 407.4,581.8 C407.0,585.5 405.8,589.8 404.4,593.8 C403.0,597.9 401.1,602.1 399.1,605.9 C397.1,609.7 395.0,613.2 392.3,616.4 C389.7,619.7 384.8,624.0 383.3,625.5"/>
<path fill="#e08fa6" stroke="#120a08" stroke-width="2.1" d="M364.9,662.4 C366.7,661.1 369.5,661.2 372.0,661.2 C374.5,661.2 377.9,661.4 379.8,662.4 C381.8,663.4 383.0,665.5 383.7,667.4 C384.5,669.3 384.5,671.6 384.3,673.7 C384.2,675.8 383.9,678.4 382.7,680.0 C381.5,681.6 379.1,682.7 377.1,683.3 C375.1,683.9 372.8,683.9 370.8,683.6 C368.7,683.3 366.5,682.8 364.9,681.5 C363.3,680.2 362.0,677.9 361.4,675.8 C360.9,673.7 360.9,671.0 361.4,668.7 C362.0,666.5 363.1,663.7 364.9,662.4 Z"/>
<ellipse cx="373.0" cy="673.4" rx="7.6" ry="7.9" fill="#c43a22" stroke="#7e1410" stroke-width="1"/>
<circle cx="372.6" cy="674.0" r="4.6" fill="none" stroke="#96200f" stroke-width="0.7"/>
<circle cx="372.4" cy="674.2" r="1.3" fill="none" stroke="#7e1410" stroke-width="0.6"/>
<path fill="#d0a596" stroke="#120a08" stroke-width="2.1" stroke-linejoin="round" d="M469.8,561.9 C471.4,560.8 476.0,557.7 479.1,557.2 C482.2,556.8 485.0,559.3 488.3,559.2 C491.7,559.1 495.0,557.2 499.0,556.6 C502.9,555.9 508.7,554.5 512.2,555.2 C515.7,556.0 518.2,558.9 520.2,561.2 C522.2,563.5 522.2,566.3 524.1,569.2 C526.1,572.0 530.3,575.1 532.1,578.5 C533.9,581.8 534.5,585.5 534.8,589.1 C535.0,592.6 533.2,596.1 533.4,599.7 C533.6,603.2 535.6,606.3 536.1,610.3 C536.5,614.3 537.0,619.6 536.1,623.5 C535.2,627.5 533.0,631.0 530.8,634.1 C528.6,637.2 526.4,640.7 522.8,642.1 C519.3,643.5 514.4,642.7 509.6,642.8 C504.7,642.9 499.2,642.7 493.6,642.8 C488.1,642.9 481.9,643.3 476.4,643.4 C470.9,643.5 464.5,644.8 460.5,643.4 C456.5,642.1 455.4,638.6 452.5,635.5 C449.7,632.4 444.9,628.8 443.3,624.9 C441.6,620.9 442.6,616.0 442.6,611.6 C442.6,607.2 443.3,601.9 443.3,598.3 C443.3,594.8 441.7,592.6 442.6,590.4 C443.5,588.2 445.8,587.1 448.6,585.1 C451.3,583.1 455.9,580.9 459.2,578.5 C462.5,576.0 466.8,572.9 468.5,570.5 C470.1,568.1 468.9,565.3 469.1,563.9 C469.3,562.4 468.1,563.0 469.8,561.9 Z"/>
<path fill="#b9806d" stroke="#4e1c14" stroke-width="1.15" stroke-linejoin="round" d="M479.1,567.8 C481.2,566.2 485.2,564.9 488.3,564.5 C491.4,564.2 495.4,565.2 497.6,565.9 C499.8,566.5 500.3,568.8 501.6,568.5 C502.9,568.2 503.6,564.6 505.6,563.9 C507.6,563.1 511.3,562.8 513.5,563.9 C515.7,565.0 518.1,568.1 518.8,570.5 C519.6,572.9 517.3,576.2 518.2,578.5 C519.1,580.7 522.7,581.3 524.1,583.8 C525.6,586.2 527.0,589.9 526.8,593.0 C526.6,596.1 522.8,599.7 522.8,602.3 C522.8,605.0 526.0,606.1 526.8,609.0 C527.6,611.8 528.3,616.0 527.5,619.6 C526.6,623.1 524.0,627.5 521.5,630.2 C519.0,632.8 515.5,634.5 512.2,635.5 C508.9,636.5 504.9,635.9 501.6,636.1 C498.3,636.4 495.4,637.0 492.3,636.8 C489.2,636.6 486.1,635.5 483.0,634.8 C479.9,634.1 476.9,633.6 473.8,632.8 C470.7,632.0 467.1,631.5 464.5,630.2 C461.8,628.8 459.5,627.5 457.8,624.9 C456.2,622.2 455.0,617.3 454.5,614.3 C454.1,611.2 455.5,609.0 455.2,606.3 C454.9,603.6 452.3,601.0 452.5,598.3 C452.8,595.7 454.5,592.6 456.5,590.4 C458.5,588.2 461.6,586.4 464.5,585.1 C467.3,583.8 471.9,584.2 473.8,582.4 C475.6,580.7 474.9,576.9 475.7,574.5 C476.6,572.0 477.0,569.5 479.1,567.8 Z"/>
<path fill="none" stroke="#4e1c14" stroke-width="1.05" stroke-linecap="round" d="M489.0,593.0 C489.6,591.5 492.2,586.0 492.3,583.8 C492.4,581.5 490.1,580.4 489.7,579.8"/>
<path fill="none" stroke="#4e1c14" stroke-width="1.05" stroke-linecap="round" d="M499.0,594.4 C499.8,593.0 502.9,589.1 504.3,586.4 C505.6,583.8 507.2,581.4 506.9,578.5 C506.6,575.5 503.0,570.2 502.3,568.5"/>
<path fill="none" stroke="#4e1c14" stroke-width="1.05" stroke-linecap="round" d="M503.6,602.3 C504.6,602.0 507.5,600.8 509.6,600.3 C511.7,599.9 515.1,599.8 516.2,599.7"/>
<path fill="none" stroke="#4e1c14" stroke-width="1.05" stroke-linecap="round" d="M501.6,609.6 C502.5,610.8 505.7,614.4 506.9,616.9 C508.1,619.4 508.6,623.5 508.9,624.9"/>
<path fill="none" stroke="#4e1c14" stroke-width="1.05" stroke-linecap="round" d="M491.0,609.0 C490.1,610.1 487.9,613.8 485.7,615.6 C483.5,617.3 479.1,618.9 477.7,619.6"/>
<path fill="none" stroke="#4e1c14" stroke-width="1.05" stroke-linecap="round" d="M488.3,598.3 C487.0,598.8 483.0,600.4 480.4,601.0 C477.7,601.5 474.9,601.8 472.4,601.7 C470.0,601.5 466.9,600.6 465.8,600.3"/>
<path fill="none" stroke="#4e1c14" stroke-width="1.05" stroke-linecap="round" d="M492.3,624.9 C492.5,626.0 492.1,629.6 493.6,631.5 C495.2,633.4 500.3,635.4 501.6,636.1"/>
<path fill="none" stroke="#4e1c14" stroke-width="1.05" stroke-linecap="round" d="M479.1,626.2 L480.4,632.8"/>
<path fill="none" stroke="#4e1c14" stroke-width="1.05" stroke-linecap="round" d="M461.2,615.6 C461.5,616.9 461.7,620.9 463.1,623.5 C464.6,626.2 468.7,630.2 469.8,631.5"/>
<path fill="none" stroke="#4e1c14" stroke-width="1.05" stroke-linecap="round" d="M473.8,582.4 L476.4,589.1"/>
<path fill="none" stroke="#4e1c14" stroke-width="1.05" stroke-linecap="round" d="M517.5,578.5 L516.9,583.8"/>
<path fill="none" stroke="#4e1c14" stroke-width="1.05" stroke-linecap="round" d="M522.8,602.3 L518.8,606.3"/>
<path fill="none" stroke="#4e1c14" stroke-width="1.05" stroke-linecap="round" d="M455.2,606.3 C455.7,607.3 457.2,610.8 458.5,612.3 C459.8,613.7 462.4,614.5 463.1,614.9"/>
<path fill="#6a1f18" d="M487.0,594.4 C487.3,593.4 491.1,592.4 492.3,592.4 C493.5,592.4 498.0,593.6 499.0,594.4 C499.9,595.1 501.8,598.7 502.3,599.7 C502.7,600.6 503.7,602.7 503.6,603.6 C503.5,604.6 502.3,608.4 501.6,609.0 C500.9,609.5 497.4,609.7 496.3,609.6 C495.2,609.5 491.7,608.4 491.0,607.6 C490.3,606.9 489.4,603.6 489.0,602.3 C488.6,601.0 486.7,595.4 487.0,594.4 Z"/>
<path fill="#d0a596" stroke="#120a08" stroke-width="2.1" stroke-linejoin="round" d="M584.8,593.7 C586.1,591.0 588.2,585.1 591.7,581.8 C595.2,578.5 601.0,576.0 605.6,573.8 C610.3,571.7 615.1,570.0 619.6,568.8 C624.0,567.7 628.2,566.7 632.5,566.9 C636.8,567.0 641.6,569.3 645.4,569.8 C649.2,570.3 652.4,568.5 655.4,569.8 C658.3,571.2 661.0,575.1 663.3,577.8 C665.6,580.4 667.8,582.4 669.3,585.7 C670.8,589.1 671.6,594.4 672.3,597.7 C672.9,601.0 673.8,603.0 673.3,605.6 C672.8,608.3 671.6,610.9 669.3,613.6 C667.0,616.2 663.0,619.4 659.3,621.5 C655.7,623.7 651.7,625.4 647.4,626.5 C643.1,627.7 637.5,628.5 633.5,628.5 C629.5,628.5 627.5,626.9 623.5,626.5 C619.6,626.2 613.9,627.0 609.6,626.5 C605.3,626.0 601.0,625.4 597.7,623.5 C594.4,621.7 591.7,618.6 589.7,615.6 C587.7,612.6 586.7,608.6 585.7,605.6 C584.8,602.7 583.9,599.7 583.8,597.7 C583.6,595.7 583.4,596.4 584.8,593.7 Z"/>
<path fill="#b9806d" stroke="#4e1c14" stroke-width="1.15" stroke-linejoin="round" d="M597.7,590.7 C598.8,589.1 601.0,586.9 603.6,585.7 C606.3,584.6 610.9,585.2 613.6,583.8 C616.2,582.3 616.9,578.1 619.6,576.8 C622.2,575.5 626.9,575.1 629.5,575.8 C632.2,576.5 633.5,580.6 635.5,580.8 C637.5,580.9 638.8,577.5 641.4,576.8 C644.1,576.1 649.1,575.6 651.4,576.8 C653.7,578.0 654.7,581.8 655.4,583.8 C656.0,585.7 654.4,587.4 655.4,588.7 C656.4,590.1 660.0,589.6 661.3,591.7 C662.7,593.9 663.6,598.3 663.3,601.7 C663.0,605.0 661.0,609.4 659.3,611.6 C657.7,613.8 655.4,613.3 653.4,614.6 C651.4,615.9 649.7,618.6 647.4,619.6 C645.1,620.6 642.1,620.4 639.4,620.6 C636.8,620.7 634.1,620.9 631.5,620.6 C628.8,620.2 626.2,618.6 623.5,618.6 C620.9,618.6 618.6,620.4 615.6,620.6 C612.6,620.7 608.3,620.6 605.6,619.6 C603.0,618.6 600.7,616.6 599.7,614.6 C598.7,612.6 600.0,609.8 599.7,607.6 C599.3,605.5 598.2,603.6 597.7,601.7 C597.2,599.7 596.7,597.5 596.7,595.7 C596.7,593.9 596.5,592.4 597.7,590.7 Z"/>
<path fill="none" stroke="#4e1c14" stroke-width="1.05" stroke-linecap="round" d="M613.6,583.8 C614.1,584.8 616.2,587.6 616.6,589.7 C616.9,591.9 615.7,595.5 615.6,596.7"/>
<path fill="none" stroke="#4e1c14" stroke-width="1.05" stroke-linecap="round" d="M635.5,580.8 C635.3,581.9 634.1,585.8 634.5,587.7 C634.8,589.6 637.0,591.4 637.5,592.1"/>
<path fill="none" stroke="#4e1c14" stroke-width="1.05" stroke-linecap="round" d="M655.4,588.7 C654.5,588.9 651.7,589.7 650.4,589.7 C649.1,589.7 647.9,588.9 647.4,588.7"/>
<path fill="none" stroke="#4e1c14" stroke-width="1.05" stroke-linecap="round" d="M599.7,607.6 C601.0,607.3 605.0,607.0 607.6,605.6 C610.3,604.3 614.3,600.7 615.6,599.7"/>
<path fill="none" stroke="#4e1c14" stroke-width="1.05" stroke-linecap="round" d="M605.6,619.6 C606.3,618.2 607.3,613.9 609.6,611.6 C611.9,609.3 617.2,607.6 619.6,605.6 C621.9,603.6 622.9,600.7 623.5,599.7"/>
<path fill="none" stroke="#4e1c14" stroke-width="1.05" stroke-linecap="round" d="M623.5,618.6 C624.2,617.1 626.5,612.8 627.5,609.6 C628.5,606.5 629.2,601.3 629.5,599.7"/>
<path fill="none" stroke="#4e1c14" stroke-width="1.05" stroke-linecap="round" d="M639.4,620.6 C639.9,619.1 642.1,615.1 642.4,611.6 C642.8,608.1 641.6,601.7 641.4,599.7"/>
<path fill="none" stroke="#4e1c14" stroke-width="1.05" stroke-linecap="round" d="M653.4,614.6 C653.2,613.1 653.2,608.5 652.4,605.6 C651.5,602.8 648.1,599.3 648.4,597.7 C648.7,596.0 653.4,596.0 654.4,595.7"/>
<path fill="none" stroke="#4e1c14" stroke-width="1.05" stroke-linecap="round" d="M599.7,614.6 C600.7,614.8 603.6,615.9 605.6,615.6 C607.6,615.2 610.6,613.1 611.6,612.6"/>
<path fill="none" stroke="#4e1c14" stroke-width="1.05" stroke-linecap="round" d="M659.3,611.6 L655.4,607.6"/>
<path fill="#6a1f18" d="M618.0,596.1 C618.4,595.5 622.0,593.6 623.5,593.3 C625.1,593.0 627.4,594.3 629.5,594.1 C631.6,593.9 637.1,592.9 639.4,592.1 C641.8,591.3 646.1,588.6 647.4,588.3 C648.7,588.0 649.7,588.9 649.0,589.7 C648.3,590.6 644.5,593.8 642.4,594.7 C640.4,595.6 635.5,596.2 633.5,596.7 C631.5,597.2 629.2,598.5 627.5,598.7 C625.8,598.9 621.8,598.4 620.6,598.1 C619.3,597.7 617.6,596.7 618.0,596.1 Z"/>
</g>

<text x="145.5" y="648.6" text-anchor="middle">Primary</text>
<text x="145.5" y="668.3" text-anchor="middle">follicle</text>
<text x="258" y="670.5" text-anchor="middle">Graafian follicle</text>
<text x="372.4" y="649" text-anchor="middle">Egg</text>
<text x="489.8" y="670.2" text-anchor="middle">Corpus luteum</text>
<text x="630.8" y="649.2" text-anchor="middle">Degenerating</text>
<text x="630.6" y="668" text-anchor="middle">corpus luteum</text>
<path fill="#dba620" d="M251,677.2 H259 V739 H266 L255.2,756.5 L244.6,739 H251 Z"/>
<rect fill="#95489b" x="450.4" y="677.2" width="6.8" height="9.8"/>
<path fill="#95489b" d="M450.2,712 H457.4 V739 H464.2 L453.8,756.5 L443.4,739 H450.2 Z"/>
<rect fill="#dba620" x="529.9" y="677.2" width="7" height="9.8"/>
<path fill="#dba620" d="M530,731 H537.2 V739 H544.3 L533.6,756.5 L523.2,739 H530 Z"/>
<text x="257.7" y="715.7" text-anchor="middle">Estrogen</text>
<text x="450.1" y="705" text-anchor="middle">Progesterone</text>
<text x="536" y="705" text-anchor="middle">Some</text>
<text x="535.7" y="723.6" text-anchor="middle">estrogen</text>
<path class="br" d="M748.8,527.4 H752.4 Q756,527.4 756,531.0 V591.0999999999999 Q756,594.3 763.2,594.3 Q756,594.3 756,597.5 V667.6999999999999 Q756,671.3 752.4,671.3 H748.8"/>
<path class="br" d="M748.8,677.6 H752.4 Q756,677.6 756,681.2 V707.9 Q756,711.1 763.2,711.1 Q756,711.1 756,714.3000000000001 V746.5 Q756,750.1 752.4,750.1 H748.8"/>
<text x="768" y="593.8">OVARIAN</text>
<text x="768" y="612.6">CYCLE</text>
<text x="768" y="704.8">Ovarian</text>
<text x="768" y="723.4">hormones</text>
<polygon fill="url(#gP)" points="419.6,858.5 446.1,804.4 460.9,781.7 477.2,781.7 489.9,755.9 507.3,774.3 525.6,770.4 540.8,815 559.6,808.2 576.9,833 594.6,870.8 609.4,886.7 622.9,892 623,908.5 419.6,908.5"/>
<polygon fill="url(#gE)" points="119.7,885.7 156.2,879 177.2,881.9 206.6,875.6 228.8,880.7 254.9,880.7 287.6,863.9 306.5,850 325.4,835.7 340.1,792.5 356,777.5 371.7,788.5 387.7,849.6 409,868.4 446.1,847.8 460.9,822.7 477.9,830.2 495.6,831.9 525.6,831.9 541.6,824.9 559.2,845.4 576.9,845.4 593.9,875.1 622.9,886.7 623,908.5 119.7,908.5"/>
<polyline fill="none" stroke="#95489b" stroke-width="2.5" stroke-linejoin="round" points="419.6,858.5 446.1,804.4 460.9,781.7 477.2,781.7 489.9,755.9 507.3,774.3 525.6,770.4 540.8,815 559.6,808.2 576.9,833 594.6,870.8 609.4,886.7 622.9,892"/>
<polyline fill="none" stroke="#95489b" stroke-width="2.5" stroke-linejoin="round" stroke-dasharray="5.5 2.5" points="119.7,902.9 147,900.4 178.5,898.7 205.7,901.7 228.8,897.5 254.9,900.8 325.4,900.4 340.1,903.8 356.1,897.9 371.7,900.6 407.2,877.9 419.6,858.5"/>
<polyline fill="none" stroke="#d6a324" stroke-width="2.5" stroke-linejoin="round" points="119.7,885.7 156.2,879 177.2,881.9 206.6,875.6 228.8,880.7 254.9,880.7 287.6,863.9 306.5,850 325.4,835.7 340.1,792.5 356,777.5 371.7,788.5 387.7,849.6 409,868.4 446.1,847.8 460.9,822.7 477.9,830.2 495.6,831.9 525.6,831.9 541.6,824.9 559.2,845.4 576.9,845.4 593.9,875.1 622.9,886.7"/>
<path class="ax" d="M120.4,908.5 L623.9,908.5 M120.40,908.5 v4 M138.38,908.5 v4 M156.35,908.5 v4 M174.33,908.5 v4 M192.30,908.5 v4 M210.28,908.5 v4 M228.25,908.5 v4 M246.23,908.5 v4 M264.20,908.5 v4 M282.18,908.5 v4 M300.15,908.5 v4 M318.13,908.5 v4 M336.10,908.5 v4 M354.08,908.5 v4 M372.05,908.5 v4 M390.03,908.5 v4 M408.00,908.5 v4 M425.98,908.5 v4 M443.95,908.5 v4 M461.93,908.5 v4 M479.90,908.5 v4 M497.88,908.5 v4 M515.85,908.5 v4 M533.83,908.5 v4 M551.80,908.5 v4 M569.78,908.5 v4 M587.75,908.5 v4 M605.73,908.5 v4 M623.70,908.5 v4"/>
<text x="107.5" y="885.3" text-anchor="end">Estrogen</text>
<text x="107.5" y="908.6" text-anchor="end">Progesterone</text>
<text x="162" y="979" text-anchor="middle">Menstruation</text>
<text x="293" y="958.5" text-anchor="middle">Proliferative</text>
<text x="293" y="977.5" text-anchor="middle">phase</text>
<text x="470" y="958.5" text-anchor="middle">Secretory</text>
<text x="470" y="977.5" text-anchor="middle">phase</text>
<text x="593" y="958.5" text-anchor="middle">Ischemic</text>
<text x="593" y="977.5" text-anchor="middle">phase</text>
<text x="681" y="979" text-anchor="middle">Menstruation</text>
<path class="br" d="M115.5,998.0 V994.1 Q115.5,990.9 118.7,990.9 H719.8 Q723,990.9 723,994.1 V998.0 M162.1,990.9 Q164.6,990.9 164.6,984.1 Q164.6,990.9 167.1,990.9 M290.6,990.9 Q293.1,990.9 293.1,984.1 Q293.1,990.9 295.6,990.9 M467.0,990.9 Q469.5,990.9 469.5,984.1 Q469.5,990.9 472.0,990.9 M590.6,990.9 Q593.1,990.9 593.1,984.1 Q593.1,990.9 595.6,990.9 M676.9,990.9 Q679.4,990.9 679.4,984.1 Q679.4,990.9 681.9,990.9 M212.2,990.9 Q214.1,990.9 214.1,992.8 V998.0 M216.0,990.9 Q214.1,990.9 214.1,992.8 M369.90000000000003,990.9 Q371.8,990.9 371.8,992.8 V998.0 M373.7,990.9 Q371.8,990.9 371.8,992.8 M565.9,990.9 Q567.8,990.9 567.8,992.8 V998.0 M569.6999999999999,990.9 Q567.8,990.9 567.8,992.8 M621.9,990.9 Q623.8,990.9 623.8,992.8 V998.0 M625.6999999999999,990.9 Q623.8,990.9 623.8,992.8"/>
<defs><clipPath id="cT"><rect x="118.3" y="1000" width="597.2" height="169.2"/></clipPath></defs>
<g clip-path="url(#cT)">
<defs><linearGradient id="gT" x1="0" y1="1019" x2="0" y2="1169" gradientUnits="userSpaceOnUse"><stop offset="0" stop-color="#e8ccbe"/><stop offset="0.75" stop-color="#e4c7b8"/><stop offset="0.82" stop-color="#d3b1a0"/><stop offset="0.90" stop-color="#caa694"/><stop offset="1" stop-color="#c9a593"/></linearGradient></defs>
<path fill="url(#gT)" d="M118.3,1019.9 C119.0,1020.4 121.2,1022.0 122.4,1023.2 C123.5,1024.4 124.5,1026.0 125.2,1027.3 C125.9,1028.7 126.4,1029.1 126.5,1031.5 C126.6,1033.8 125.7,1037.3 125.7,1041.4 C125.7,1045.6 125.7,1053.8 126.5,1056.4 C127.3,1058.9 129.5,1056.4 130.7,1056.7 C131.8,1057.0 132.9,1057.0 133.5,1058.0 C134.0,1059.1 134.3,1061.0 134.0,1063.0 C133.6,1064.9 131.8,1066.9 131.5,1069.6 C131.2,1072.4 132.6,1077.2 132.3,1079.6 C132.0,1081.9 130.5,1081.5 129.8,1083.7 C129.1,1085.9 128.7,1089.1 128.2,1092.8 C127.6,1096.5 126.4,1103.3 126.5,1106.1 C126.7,1108.8 128.0,1109.1 129.0,1109.4 C130.0,1109.7 131.5,1109.4 132.3,1107.7 C133.1,1106.1 133.4,1102.3 134.0,1099.4 C134.5,1096.5 134.5,1092.3 135.6,1090.3 C136.7,1088.3 138.8,1087.5 140.6,1087.5 C142.4,1087.5 145.3,1089.2 146.4,1090.3 C147.5,1091.5 147.8,1093.4 147.2,1094.5 C146.7,1095.6 144.5,1095.9 143.1,1097.0 C141.7,1098.1 139.5,1097.9 139.0,1101.1 C138.4,1104.3 139.2,1111.0 139.8,1116.0 C140.3,1121.0 141.6,1127.6 142.3,1130.9 C143.0,1134.3 143.4,1136.7 143.9,1135.9 C144.5,1135.1 145.4,1129.8 145.6,1126.0 C145.7,1122.1 144.5,1116.0 144.8,1112.7 C145.0,1109.4 146.4,1106.9 147.2,1106.1 C148.1,1105.2 149.4,1106.1 149.7,1107.7 C150.0,1109.4 148.1,1115.2 148.9,1116.0 C149.7,1116.9 153.0,1113.1 154.7,1112.7 C156.4,1112.3 158.0,1113.0 158.8,1113.5 C159.7,1114.1 160.4,1115.2 159.7,1116.0 C159.0,1116.9 155.7,1117.4 154.7,1118.5 C153.7,1119.6 152.8,1121.7 153.9,1122.7 C155.0,1123.6 159.7,1123.5 161.3,1124.3 C163.0,1125.1 163.7,1126.2 163.8,1127.6 C164.0,1129.0 162.0,1131.4 162.2,1132.6 C162.3,1133.8 163.4,1135.9 164.6,1135.1 C165.9,1134.3 167.7,1129.3 169.6,1127.6 C171.5,1126.0 174.6,1124.9 176.2,1125.1 C177.9,1125.4 178.9,1128.0 179.6,1129.3 C180.2,1130.5 179.0,1132.2 180.4,1132.6 C181.8,1133.0 185.8,1131.5 187.8,1131.8 C189.9,1132.0 191.7,1133.3 192.8,1134.3 C193.9,1135.2 193.4,1137.8 194.5,1137.6 C195.6,1137.3 198.3,1134.5 199.4,1132.6 C200.6,1130.7 200.0,1127.5 201.1,1126.0 C202.2,1124.4 204.8,1123.2 206.1,1123.5 C207.3,1123.8 208.3,1125.8 208.6,1127.6 C208.8,1129.4 207.0,1133.7 207.7,1134.3 C208.4,1134.8 211.3,1132.2 212.7,1130.9 C214.1,1129.7 214.8,1127.2 216.0,1126.8 C217.3,1126.4 219.6,1127.2 220.2,1128.5 C220.7,1129.7 218.9,1132.3 219.3,1134.3 C219.8,1136.2 221.5,1139.8 222.7,1140.1 C223.8,1140.3 224.9,1138.0 226.0,1135.9 C227.1,1133.8 227.9,1129.6 229.3,1127.6 C230.7,1125.7 232.5,1124.7 234.3,1124.3 C236.0,1123.9 239.0,1124.3 240.1,1125.1 C241.2,1126.0 239.9,1129.1 240.9,1129.3 C241.9,1129.4 244.3,1126.9 245.9,1126.0 C247.4,1125.0 248.2,1124.2 250.0,1123.5 C251.8,1122.8 254.8,1122.2 256.6,1121.8 C258.4,1121.4 259.9,1120.3 260.8,1121.0 C261.6,1121.7 261.7,1124.0 261.6,1126.0 C261.5,1127.9 259.8,1131.1 259.9,1132.6 C260.1,1134.1 261.3,1135.4 262.4,1135.1 C263.5,1134.8 265.6,1132.7 266.6,1130.9 C267.5,1129.1 267.8,1126.7 268.2,1124.3 C268.6,1122.0 268.0,1118.8 269.1,1116.9 C270.2,1114.9 273.1,1113.5 274.9,1112.7 C276.7,1111.9 278.9,1110.8 279.8,1111.9 C280.8,1113.0 280.5,1116.7 280.7,1119.3 C280.8,1122.0 280.2,1125.7 280.7,1127.6 C281.1,1129.6 282.3,1131.2 283.1,1130.9 C284.0,1130.7 285.1,1128.5 285.6,1126.0 C286.2,1123.5 286.2,1119.3 286.5,1116.0 C286.7,1112.7 286.5,1108.3 287.3,1106.1 C288.1,1103.9 290.1,1102.9 291.4,1102.8 C292.8,1102.6 294.6,1103.3 295.6,1105.2 C296.5,1107.2 296.8,1111.5 297.2,1114.4 C297.7,1117.3 297.4,1121.0 298.1,1122.7 C298.8,1124.3 300.7,1125.4 301.4,1124.3 C302.1,1123.2 302.2,1119.6 302.2,1116.0 C302.2,1112.4 301.4,1106.6 301.4,1102.8 C301.4,1098.9 301.2,1095.2 302.2,1092.8 C303.2,1090.5 305.8,1089.1 307.2,1088.7 C308.6,1088.3 309.9,1088.5 310.5,1090.3 C311.1,1092.1 310.7,1096.5 311.0,1099.4 C311.3,1102.3 311.4,1105.0 312.2,1107.7 C312.9,1110.5 314.8,1113.0 315.5,1116.0 C316.2,1119.1 315.8,1123.8 316.3,1126.0 C316.8,1128.2 317.6,1129.8 318.3,1129.3 C319.0,1128.7 320.1,1126.2 320.4,1122.7 C320.8,1119.1 320.6,1112.7 320.4,1107.7 C320.3,1102.8 320.2,1097.1 319.6,1092.8 C319.1,1088.5 316.9,1084.5 317.1,1082.0 C317.4,1079.6 319.8,1078.9 321.3,1077.9 C322.8,1076.9 325.1,1075.1 326.2,1075.9 C327.3,1076.7 327.2,1080.5 327.9,1082.9 C328.6,1085.3 329.6,1088.7 330.4,1090.3 C331.2,1092.0 332.3,1093.5 332.9,1092.8 C333.4,1092.1 334.0,1089.2 333.7,1086.2 C333.4,1083.1 331.9,1077.6 331.2,1074.6 C330.5,1071.5 329.0,1069.6 329.6,1068.0 C330.1,1066.3 333.0,1065.3 334.5,1064.6 C336.0,1064.0 337.6,1062.7 338.7,1063.8 C339.8,1064.9 340.3,1068.1 341.2,1071.3 C342.0,1074.4 343.0,1080.1 343.6,1082.9 C344.3,1085.6 344.8,1087.8 345.3,1087.8 C345.9,1087.8 347.0,1086.2 347.0,1082.9 C347.0,1079.6 345.9,1072.7 345.3,1068.0 C344.7,1063.3 342.7,1058.3 343.1,1054.7 C343.6,1051.1 346.0,1048.4 347.8,1046.4 C349.5,1044.4 352.1,1042.5 353.6,1042.8 C355.1,1043.0 356.1,1044.7 356.9,1048.1 C357.7,1051.4 358.4,1058.3 358.6,1063.0 C358.7,1067.7 358.1,1072.1 357.7,1076.2 C357.3,1080.4 356.2,1085.1 356.1,1087.8 C355.9,1090.6 356.1,1092.5 356.9,1092.8 C357.7,1093.1 359.9,1091.7 361.0,1089.5 C362.2,1087.3 363.3,1083.4 363.5,1079.6 C363.8,1075.7 363.1,1071.3 362.7,1066.3 C362.3,1061.3 361.7,1055.7 361.0,1049.7 C360.4,1043.8 358.0,1034.7 358.6,1030.7 C359.1,1026.7 362.0,1027.0 364.4,1025.7 C366.7,1024.4 371.0,1021.9 372.7,1022.9 C374.3,1023.8 373.9,1027.6 374.3,1031.5 C374.7,1035.4 374.9,1041.2 375.1,1046.4 C375.4,1051.7 375.6,1058.0 376.0,1063.0 C376.4,1068.0 376.9,1073.3 377.6,1076.2 C378.3,1079.1 379.3,1080.4 380.1,1080.4 C380.9,1080.4 382.0,1079.1 382.6,1076.2 C383.1,1073.3 383.4,1067.7 383.4,1063.0 C383.4,1058.3 383.0,1053.0 382.6,1048.1 C382.2,1043.1 381.1,1038.7 380.9,1033.1 C380.8,1027.6 380.4,1018.5 381.8,1014.9 C383.1,1011.3 386.2,1012.4 389.2,1011.6 C392.3,1010.8 397.8,1009.8 400.0,1009.9 C402.2,1010.1 401.8,1010.5 402.5,1012.4 C403.2,1014.4 403.7,1017.5 404.1,1021.5 C404.6,1025.6 404.7,1031.2 405.0,1036.5 C405.2,1041.7 405.2,1049.2 405.8,1053.0 C406.4,1056.9 407.3,1058.8 408.3,1059.7 C409.3,1060.5 410.8,1060.2 411.6,1058.0 C412.4,1055.8 412.9,1051.1 412.9,1046.4 C413.0,1041.7 412.0,1034.5 411.9,1029.8 C411.9,1025.1 411.7,1021.5 412.4,1018.2 C413.2,1014.9 415.1,1011.5 416.6,1009.9 C418.1,1008.4 419.6,1008.7 421.5,1009.1 C423.5,1009.5 426.2,1010.9 428.2,1012.4 C430.1,1014.0 432.0,1015.6 433.1,1018.2 C434.3,1020.9 434.6,1024.0 434.8,1028.2 C435.0,1032.3 434.8,1037.3 434.5,1043.1 C434.2,1048.9 433.4,1057.2 433.1,1063.0 C432.9,1068.8 432.6,1074.2 433.1,1077.9 C433.7,1081.6 435.4,1084.5 436.5,1085.4 C437.6,1086.2 439.1,1085.5 439.8,1082.9 C440.5,1080.2 440.6,1075.1 440.6,1069.6 C440.6,1064.1 439.8,1056.4 439.8,1049.7 C439.8,1043.1 440.2,1035.1 440.6,1029.8 C441.0,1024.6 441.0,1021.3 442.3,1018.2 C443.5,1015.2 445.7,1013.3 448.1,1011.6 C450.4,1009.9 453.7,1009.0 456.4,1008.3 C459.0,1007.6 462.0,1006.9 463.8,1007.5 C465.6,1008.0 466.4,1009.5 467.1,1011.6 C467.9,1013.7 468.4,1016.9 468.3,1019.9 C468.1,1022.9 466.8,1026.5 466.3,1029.8 C465.8,1033.1 465.2,1036.9 465.5,1039.8 C465.7,1042.7 467.0,1045.9 468.0,1047.2 C468.9,1048.6 470.4,1049.0 471.3,1048.1 C472.1,1047.1 472.7,1043.9 472.9,1041.4 C473.2,1039.0 473.1,1035.4 472.9,1033.1 C472.8,1030.9 471.7,1029.1 472.1,1028.2 C472.5,1027.2 474.4,1026.5 475.4,1027.3 C476.4,1028.2 477.2,1031.9 477.9,1033.1 C478.6,1034.4 479.0,1035.1 479.6,1034.8 C480.1,1034.5 481.5,1033.7 481.2,1031.5 C480.9,1029.3 478.9,1024.6 477.9,1021.5 C476.9,1018.5 475.3,1015.9 475.4,1013.3 C475.6,1010.6 476.9,1007.2 478.7,1005.8 C480.5,1004.4 483.6,1004.6 486.2,1004.6 C488.8,1004.6 492.5,1004.6 494.5,1005.8 C496.4,1007.0 497.2,1009.0 497.8,1011.6 C498.4,1014.2 497.8,1018.2 498.1,1021.5 C498.4,1024.9 498.8,1029.3 499.4,1031.5 C500.1,1033.7 501.1,1035.4 501.9,1034.8 C502.8,1034.3 503.9,1031.2 504.4,1028.2 C505.0,1025.1 505.0,1020.0 505.2,1016.6 C505.5,1013.1 505.4,1009.4 506.1,1007.5 C506.8,1005.5 508.3,1004.7 509.4,1005.0 C510.5,1005.2 511.7,1006.9 512.7,1009.1 C513.7,1011.3 514.5,1014.8 515.2,1018.2 C515.9,1021.7 517.0,1025.7 516.9,1029.8 C516.7,1034.0 515.1,1038.7 514.4,1043.1 C513.7,1047.5 512.8,1051.4 512.7,1056.4 C512.6,1061.3 512.8,1068.9 513.5,1072.9 C514.2,1076.9 515.7,1079.3 516.9,1080.4 C518.0,1081.5 519.3,1081.4 520.2,1079.6 C521.0,1077.8 521.5,1074.6 521.8,1069.6 C522.1,1064.6 521.8,1056.4 521.8,1049.7 C521.8,1043.1 521.5,1036.5 521.8,1029.8 C522.1,1023.2 522.4,1014.0 523.5,1009.9 C524.6,1005.9 526.4,1006.5 528.5,1005.8 C530.5,1005.1 534.3,1004.8 535.9,1005.8 C537.6,1006.8 538.1,1008.4 538.4,1011.6 C538.7,1014.8 537.7,1021.3 537.6,1024.9 C537.4,1028.5 537.0,1031.6 537.6,1033.1 C538.1,1034.7 540.2,1035.6 540.9,1034.0 C541.6,1032.3 541.4,1027.2 541.7,1023.2 C542.0,1019.2 541.9,1012.8 542.5,1009.9 C543.2,1007.0 544.6,1006.5 545.9,1005.8 C547.1,1005.1 547.7,1006.2 550.0,1005.8 C552.3,1005.4 556.9,1004.0 559.9,1003.6 C563.0,1003.3 565.5,1003.1 568.2,1003.6 C571.0,1004.1 574.4,1005.3 576.5,1006.6 C578.6,1008.0 579.8,1009.7 580.7,1011.6 C581.5,1013.5 581.7,1015.2 581.8,1018.2 C581.9,1021.3 581.1,1025.7 581.2,1029.8 C581.2,1034.0 582.3,1038.7 582.3,1043.1 C582.4,1047.5 581.8,1051.9 581.5,1056.4 C581.2,1060.8 580.9,1065.2 580.7,1069.6 C580.4,1074.0 579.7,1079.6 579.8,1082.9 C580.0,1086.2 580.7,1088.3 581.5,1089.5 C582.3,1090.7 584.0,1091.4 584.8,1090.3 C585.6,1089.2 586.0,1086.9 586.5,1082.9 C586.9,1078.9 587.2,1071.8 587.3,1066.3 C587.4,1060.8 587.3,1055.2 587.3,1049.7 C587.3,1044.2 587.0,1037.8 587.3,1033.1 C587.6,1028.5 588.4,1024.2 589.0,1021.5 C589.5,1018.9 590.8,1018.6 590.6,1017.4 C590.4,1016.2 588.3,1015.5 587.8,1014.1 C587.3,1012.7 587.2,1010.4 587.8,1009.1 C588.4,1007.9 590.0,1006.9 591.4,1006.6 C592.9,1006.4 595.2,1006.6 596.4,1007.5 C597.7,1008.3 598.6,1010.1 598.9,1011.6 C599.2,1013.1 597.7,1015.5 598.1,1016.6 C598.5,1017.7 600.7,1018.8 601.4,1018.2 C602.1,1017.7 601.5,1014.6 602.2,1013.3 C602.9,1011.9 603.7,1010.8 605.5,1009.9 C607.3,1009.1 610.4,1008.6 613.0,1008.3 C615.6,1008.0 619.1,1008.0 621.3,1008.3 C623.5,1008.6 625.2,1009.0 626.2,1009.9 C627.3,1010.9 627.7,1012.4 627.6,1014.1 C627.4,1015.7 625.6,1017.5 625.4,1019.9 C625.2,1022.2 625.8,1025.4 626.2,1028.2 C626.7,1030.9 627.1,1034.9 627.9,1036.5 C628.7,1038.0 630.5,1038.1 631.2,1037.3 C631.9,1036.5 631.5,1032.9 632.0,1031.5 C632.6,1030.1 633.1,1029.5 634.5,1029.0 C635.9,1028.5 639.4,1028.0 640.3,1028.5 C641.3,1029.1 640.7,1030.7 640.3,1032.3 C639.9,1033.9 638.5,1036.0 637.8,1038.1 C637.2,1040.2 635.8,1043.8 636.2,1044.8 C636.6,1045.7 639.3,1043.4 640.3,1043.9 C641.4,1044.5 642.2,1045.4 642.5,1048.1 C642.8,1050.7 641.9,1055.8 642.0,1059.7 C642.0,1063.5 642.5,1067.4 642.8,1071.3 C643.1,1075.1 643.2,1081.1 643.6,1082.9 C644.1,1084.7 644.8,1081.5 645.3,1082.0 C645.9,1082.6 646.5,1084.1 647.0,1086.2 C647.4,1088.3 647.1,1092.3 647.8,1094.5 C648.5,1096.7 649.7,1098.6 651.1,1099.4 C652.5,1100.3 654.7,1098.3 656.1,1099.4 C657.5,1100.6 658.0,1103.9 659.4,1106.1 C660.8,1108.3 663.0,1110.5 664.4,1112.7 C665.7,1114.9 666.6,1116.6 667.7,1119.3 C668.8,1122.1 670.0,1126.8 671.0,1129.3 C672.0,1131.8 672.7,1134.0 673.5,1134.3 C674.3,1134.5 675.0,1131.5 676.0,1130.9 C676.9,1130.4 678.3,1130.1 679.3,1130.9 C680.2,1131.8 680.8,1134.9 681.8,1135.9 C682.7,1136.9 684.0,1137.8 685.1,1136.7 C686.2,1135.6 687.2,1131.1 688.4,1129.3 C689.6,1127.5 691.2,1126.1 692.5,1126.0 C693.9,1125.8 695.7,1127.1 696.7,1128.5 C697.7,1129.8 697.5,1133.1 698.3,1134.3 C699.2,1135.4 700.6,1135.4 701.7,1135.1 C702.8,1134.8 704.0,1133.8 705.0,1132.6 C705.9,1131.4 706.6,1127.9 707.5,1127.6 C708.3,1127.3 709.3,1129.7 709.9,1130.9 C710.6,1132.2 710.7,1134.8 711.6,1135.1 C712.5,1135.4 714.9,1133.0 715.5,1132.6 L715.5,1169.2 L118.3,1169.2 Z"/>
<path fill="none" stroke="#2e130c" stroke-width="1.5" stroke-linejoin="round" d="M118.3,1019.9 C119.0,1020.4 121.2,1022.0 122.4,1023.2 C123.5,1024.4 124.5,1026.0 125.2,1027.3 C125.9,1028.7 126.4,1029.1 126.5,1031.5 C126.6,1033.8 125.7,1037.3 125.7,1041.4 C125.7,1045.6 125.7,1053.8 126.5,1056.4 C127.3,1058.9 129.5,1056.4 130.7,1056.7 C131.8,1057.0 132.9,1057.0 133.5,1058.0 C134.0,1059.1 134.3,1061.0 134.0,1063.0 C133.6,1064.9 131.8,1066.9 131.5,1069.6 C131.2,1072.4 132.6,1077.2 132.3,1079.6 C132.0,1081.9 130.5,1081.5 129.8,1083.7 C129.1,1085.9 128.7,1089.1 128.2,1092.8 C127.6,1096.5 126.4,1103.3 126.5,1106.1 C126.7,1108.8 128.0,1109.1 129.0,1109.4 C130.0,1109.7 131.5,1109.4 132.3,1107.7 C133.1,1106.1 133.4,1102.3 134.0,1099.4 C134.5,1096.5 134.5,1092.3 135.6,1090.3 C136.7,1088.3 138.8,1087.5 140.6,1087.5 C142.4,1087.5 145.3,1089.2 146.4,1090.3 C147.5,1091.5 147.8,1093.4 147.2,1094.5 C146.7,1095.6 144.5,1095.9 143.1,1097.0 C141.7,1098.1 139.5,1097.9 139.0,1101.1 C138.4,1104.3 139.2,1111.0 139.8,1116.0 C140.3,1121.0 141.6,1127.6 142.3,1130.9 C143.0,1134.3 143.4,1136.7 143.9,1135.9 C144.5,1135.1 145.4,1129.8 145.6,1126.0 C145.7,1122.1 144.5,1116.0 144.8,1112.7 C145.0,1109.4 146.4,1106.9 147.2,1106.1 C148.1,1105.2 149.4,1106.1 149.7,1107.7 C150.0,1109.4 148.1,1115.2 148.9,1116.0 C149.7,1116.9 153.0,1113.1 154.7,1112.7 C156.4,1112.3 158.0,1113.0 158.8,1113.5 C159.7,1114.1 160.4,1115.2 159.7,1116.0 C159.0,1116.9 155.7,1117.4 154.7,1118.5 C153.7,1119.6 152.8,1121.7 153.9,1122.7 C155.0,1123.6 159.7,1123.5 161.3,1124.3 C163.0,1125.1 163.7,1126.2 163.8,1127.6 C164.0,1129.0 162.0,1131.4 162.2,1132.6 C162.3,1133.8 163.4,1135.9 164.6,1135.1 C165.9,1134.3 167.7,1129.3 169.6,1127.6 C171.5,1126.0 174.6,1124.9 176.2,1125.1 C177.9,1125.4 178.9,1128.0 179.6,1129.3 C180.2,1130.5 179.0,1132.2 180.4,1132.6 C181.8,1133.0 185.8,1131.5 187.8,1131.8 C189.9,1132.0 191.7,1133.3 192.8,1134.3 C193.9,1135.2 193.4,1137.8 194.5,1137.6 C195.6,1137.3 198.3,1134.5 199.4,1132.6 C200.6,1130.7 200.0,1127.5 201.1,1126.0 C202.2,1124.4 204.8,1123.2 206.1,1123.5 C207.3,1123.8 208.3,1125.8 208.6,1127.6 C208.8,1129.4 207.0,1133.7 207.7,1134.3 C208.4,1134.8 211.3,1132.2 212.7,1130.9 C214.1,1129.7 214.8,1127.2 216.0,1126.8 C217.3,1126.4 219.6,1127.2 220.2,1128.5 C220.7,1129.7 218.9,1132.3 219.3,1134.3 C219.8,1136.2 221.5,1139.8 222.7,1140.1 C223.8,1140.3 224.9,1138.0 226.0,1135.9 C227.1,1133.8 227.9,1129.6 229.3,1127.6 C230.7,1125.7 232.5,1124.7 234.3,1124.3 C236.0,1123.9 239.0,1124.3 240.1,1125.1 C241.2,1126.0 239.9,1129.1 240.9,1129.3 C241.9,1129.4 244.3,1126.9 245.9,1126.0 C247.4,1125.0 248.2,1124.2 250.0,1123.5 C251.8,1122.8 254.8,1122.2 256.6,1121.8 C258.4,1121.4 259.9,1120.3 260.8,1121.0 C261.6,1121.7 261.7,1124.0 261.6,1126.0 C261.5,1127.9 259.8,1131.1 259.9,1132.6 C260.1,1134.1 261.3,1135.4 262.4,1135.1 C263.5,1134.8 265.6,1132.7 266.6,1130.9 C267.5,1129.1 267.8,1126.7 268.2,1124.3 C268.6,1122.0 268.0,1118.8 269.1,1116.9 C270.2,1114.9 273.1,1113.5 274.9,1112.7 C276.7,1111.9 278.9,1110.8 279.8,1111.9 C280.8,1113.0 280.5,1116.7 280.7,1119.3 C280.8,1122.0 280.2,1125.7 280.7,1127.6 C281.1,1129.6 282.3,1131.2 283.1,1130.9 C284.0,1130.7 285.1,1128.5 285.6,1126.0 C286.2,1123.5 286.2,1119.3 286.5,1116.0 C286.7,1112.7 286.5,1108.3 287.3,1106.1 C288.1,1103.9 290.1,1102.9 291.4,1102.8 C292.8,1102.6 294.6,1103.3 295.6,1105.2 C296.5,1107.2 296.8,1111.5 297.2,1114.4 C297.7,1117.3 297.4,1121.0 298.1,1122.7 C298.8,1124.3 300.7,1125.4 301.4,1124.3 C302.1,1123.2 302.2,1119.6 302.2,1116.0 C302.2,1112.4 301.4,1106.6 301.4,1102.8 C301.4,1098.9 301.2,1095.2 302.2,1092.8 C303.2,1090.5 305.8,1089.1 307.2,1088.7 C308.6,1088.3 309.9,1088.5 310.5,1090.3 C311.1,1092.1 310.7,1096.5 311.0,1099.4 C311.3,1102.3 311.4,1105.0 312.2,1107.7 C312.9,1110.5 314.8,1113.0 315.5,1116.0 C316.2,1119.1 315.8,1123.8 316.3,1126.0 C316.8,1128.2 317.6,1129.8 318.3,1129.3 C319.0,1128.7 320.1,1126.2 320.4,1122.7 C320.8,1119.1 320.6,1112.7 320.4,1107.7 C320.3,1102.8 320.2,1097.1 319.6,1092.8 C319.1,1088.5 316.9,1084.5 317.1,1082.0 C317.4,1079.6 319.8,1078.9 321.3,1077.9 C322.8,1076.9 325.1,1075.1 326.2,1075.9 C327.3,1076.7 327.2,1080.5 327.9,1082.9 C328.6,1085.3 329.6,1088.7 330.4,1090.3 C331.2,1092.0 332.3,1093.5 332.9,1092.8 C333.4,1092.1 334.0,1089.2 333.7,1086.2 C333.4,1083.1 331.9,1077.6 331.2,1074.6 C330.5,1071.5 329.0,1069.6 329.6,1068.0 C330.1,1066.3 333.0,1065.3 334.5,1064.6 C336.0,1064.0 337.6,1062.7 338.7,1063.8 C339.8,1064.9 340.3,1068.1 341.2,1071.3 C342.0,1074.4 343.0,1080.1 343.6,1082.9 C344.3,1085.6 344.8,1087.8 345.3,1087.8 C345.9,1087.8 347.0,1086.2 347.0,1082.9 C347.0,1079.6 345.9,1072.7 345.3,1068.0 C344.7,1063.3 342.7,1058.3 343.1,1054.7 C343.6,1051.1 346.0,1048.4 347.8,1046.4 C349.5,1044.4 352.1,1042.5 353.6,1042.8 C355.1,1043.0 356.1,1044.7 356.9,1048.1 C357.7,1051.4 358.4,1058.3 358.6,1063.0 C358.7,1067.7 358.1,1072.1 357.7,1076.2 C357.3,1080.4 356.2,1085.1 356.1,1087.8 C355.9,1090.6 356.1,1092.5 356.9,1092.8 C357.7,1093.1 359.9,1091.7 361.0,1089.5 C362.2,1087.3 363.3,1083.4 363.5,1079.6 C363.8,1075.7 363.1,1071.3 362.7,1066.3 C362.3,1061.3 361.7,1055.7 361.0,1049.7 C360.4,1043.8 358.0,1034.7 358.6,1030.7 C359.1,1026.7 362.0,1027.0 364.4,1025.7 C366.7,1024.4 371.0,1021.9 372.7,1022.9 C374.3,1023.8 373.9,1027.6 374.3,1031.5 C374.7,1035.4 374.9,1041.2 375.1,1046.4 C375.4,1051.7 375.6,1058.0 376.0,1063.0 C376.4,1068.0 376.9,1073.3 377.6,1076.2 C378.3,1079.1 379.3,1080.4 380.1,1080.4 C380.9,1080.4 382.0,1079.1 382.6,1076.2 C383.1,1073.3 383.4,1067.7 383.4,1063.0 C383.4,1058.3 383.0,1053.0 382.6,1048.1 C382.2,1043.1 381.1,1038.7 380.9,1033.1 C380.8,1027.6 380.4,1018.5 381.8,1014.9 C383.1,1011.3 386.2,1012.4 389.2,1011.6 C392.3,1010.8 397.8,1009.8 400.0,1009.9 C402.2,1010.1 401.8,1010.5 402.5,1012.4 C403.2,1014.4 403.7,1017.5 404.1,1021.5 C404.6,1025.6 404.7,1031.2 405.0,1036.5 C405.2,1041.7 405.2,1049.2 405.8,1053.0 C406.4,1056.9 407.3,1058.8 408.3,1059.7 C409.3,1060.5 410.8,1060.2 411.6,1058.0 C412.4,1055.8 412.9,1051.1 412.9,1046.4 C413.0,1041.7 412.0,1034.5 411.9,1029.8 C411.9,1025.1 411.7,1021.5 412.4,1018.2 C413.2,1014.9 415.1,1011.5 416.6,1009.9 C418.1,1008.4 419.6,1008.7 421.5,1009.1 C423.5,1009.5 426.2,1010.9 428.2,1012.4 C430.1,1014.0 432.0,1015.6 433.1,1018.2 C434.3,1020.9 434.6,1024.0 434.8,1028.2 C435.0,1032.3 434.8,1037.3 434.5,1043.1 C434.2,1048.9 433.4,1057.2 433.1,1063.0 C432.9,1068.8 432.6,1074.2 433.1,1077.9 C433.7,1081.6 435.4,1084.5 436.5,1085.4 C437.6,1086.2 439.1,1085.5 439.8,1082.9 C440.5,1080.2 440.6,1075.1 440.6,1069.6 C440.6,1064.1 439.8,1056.4 439.8,1049.7 C439.8,1043.1 440.2,1035.1 440.6,1029.8 C441.0,1024.6 441.0,1021.3 442.3,1018.2 C443.5,1015.2 445.7,1013.3 448.1,1011.6 C450.4,1009.9 453.7,1009.0 456.4,1008.3 C459.0,1007.6 462.0,1006.9 463.8,1007.5 C465.6,1008.0 466.4,1009.5 467.1,1011.6 C467.9,1013.7 468.4,1016.9 468.3,1019.9 C468.1,1022.9 466.8,1026.5 466.3,1029.8 C465.8,1033.1 465.2,1036.9 465.5,1039.8 C465.7,1042.7 467.0,1045.9 468.0,1047.2 C468.9,1048.6 470.4,1049.0 471.3,1048.1 C472.1,1047.1 472.7,1043.9 472.9,1041.4 C473.2,1039.0 473.1,1035.4 472.9,1033.1 C472.8,1030.9 471.7,1029.1 472.1,1028.2 C472.5,1027.2 474.4,1026.5 475.4,1027.3 C476.4,1028.2 477.2,1031.9 477.9,1033.1 C478.6,1034.4 479.0,1035.1 479.6,1034.8 C480.1,1034.5 481.5,1033.7 481.2,1031.5 C480.9,1029.3 478.9,1024.6 477.9,1021.5 C476.9,1018.5 475.3,1015.9 475.4,1013.3 C475.6,1010.6 476.9,1007.2 478.7,1005.8 C480.5,1004.4 483.6,1004.6 486.2,1004.6 C488.8,1004.6 492.5,1004.6 494.5,1005.8 C496.4,1007.0 497.2,1009.0 497.8,1011.6 C498.4,1014.2 497.8,1018.2 498.1,1021.5 C498.4,1024.9 498.8,1029.3 499.4,1031.5 C500.1,1033.7 501.1,1035.4 501.9,1034.8 C502.8,1034.3 503.9,1031.2 504.4,1028.2 C505.0,1025.1 505.0,1020.0 505.2,1016.6 C505.5,1013.1 505.4,1009.4 506.1,1007.5 C506.8,1005.5 508.3,1004.7 509.4,1005.0 C510.5,1005.2 511.7,1006.9 512.7,1009.1 C513.7,1011.3 514.5,1014.8 515.2,1018.2 C515.9,1021.7 517.0,1025.7 516.9,1029.8 C516.7,1034.0 515.1,1038.7 514.4,1043.1 C513.7,1047.5 512.8,1051.4 512.7,1056.4 C512.6,1061.3 512.8,1068.9 513.5,1072.9 C514.2,1076.9 515.7,1079.3 516.9,1080.4 C518.0,1081.5 519.3,1081.4 520.2,1079.6 C521.0,1077.8 521.5,1074.6 521.8,1069.6 C522.1,1064.6 521.8,1056.4 521.8,1049.7 C521.8,1043.1 521.5,1036.5 521.8,1029.8 C522.1,1023.2 522.4,1014.0 523.5,1009.9 C524.6,1005.9 526.4,1006.5 528.5,1005.8 C530.5,1005.1 534.3,1004.8 535.9,1005.8 C537.6,1006.8 538.1,1008.4 538.4,1011.6 C538.7,1014.8 537.7,1021.3 537.6,1024.9 C537.4,1028.5 537.0,1031.6 537.6,1033.1 C538.1,1034.7 540.2,1035.6 540.9,1034.0 C541.6,1032.3 541.4,1027.2 541.7,1023.2 C542.0,1019.2 541.9,1012.8 542.5,1009.9 C543.2,1007.0 544.6,1006.5 545.9,1005.8 C547.1,1005.1 547.7,1006.2 550.0,1005.8 C552.3,1005.4 556.9,1004.0 559.9,1003.6 C563.0,1003.3 565.5,1003.1 568.2,1003.6 C571.0,1004.1 574.4,1005.3 576.5,1006.6 C578.6,1008.0 579.8,1009.7 580.7,1011.6 C581.5,1013.5 581.7,1015.2 581.8,1018.2 C581.9,1021.3 581.1,1025.7 581.2,1029.8 C581.2,1034.0 582.3,1038.7 582.3,1043.1 C582.4,1047.5 581.8,1051.9 581.5,1056.4 C581.2,1060.8 580.9,1065.2 580.7,1069.6 C580.4,1074.0 579.7,1079.6 579.8,1082.9 C580.0,1086.2 580.7,1088.3 581.5,1089.5 C582.3,1090.7 584.0,1091.4 584.8,1090.3 C585.6,1089.2 586.0,1086.9 586.5,1082.9 C586.9,1078.9 587.2,1071.8 587.3,1066.3 C587.4,1060.8 587.3,1055.2 587.3,1049.7 C587.3,1044.2 587.0,1037.8 587.3,1033.1 C587.6,1028.5 588.4,1024.2 589.0,1021.5 C589.5,1018.9 590.8,1018.6 590.6,1017.4 C590.4,1016.2 588.3,1015.5 587.8,1014.1 C587.3,1012.7 587.2,1010.4 587.8,1009.1 C588.4,1007.9 590.0,1006.9 591.4,1006.6 C592.9,1006.4 595.2,1006.6 596.4,1007.5 C597.7,1008.3 598.6,1010.1 598.9,1011.6 C599.2,1013.1 597.7,1015.5 598.1,1016.6 C598.5,1017.7 600.7,1018.8 601.4,1018.2 C602.1,1017.7 601.5,1014.6 602.2,1013.3 C602.9,1011.9 603.7,1010.8 605.5,1009.9 C607.3,1009.1 610.4,1008.6 613.0,1008.3 C615.6,1008.0 619.1,1008.0 621.3,1008.3 C623.5,1008.6 625.2,1009.0 626.2,1009.9 C627.3,1010.9 627.7,1012.4 627.6,1014.1 C627.4,1015.7 625.6,1017.5 625.4,1019.9 C625.2,1022.2 625.8,1025.4 626.2,1028.2 C626.7,1030.9 627.1,1034.9 627.9,1036.5 C628.7,1038.0 630.5,1038.1 631.2,1037.3 C631.9,1036.5 631.5,1032.9 632.0,1031.5 C632.6,1030.1 633.1,1029.5 634.5,1029.0 C635.9,1028.5 639.4,1028.0 640.3,1028.5 C641.3,1029.1 640.7,1030.7 640.3,1032.3 C639.9,1033.9 638.5,1036.0 637.8,1038.1 C637.2,1040.2 635.8,1043.8 636.2,1044.8 C636.6,1045.7 639.3,1043.4 640.3,1043.9 C641.4,1044.5 642.2,1045.4 642.5,1048.1 C642.8,1050.7 641.9,1055.8 642.0,1059.7 C642.0,1063.5 642.5,1067.4 642.8,1071.3 C643.1,1075.1 643.2,1081.1 643.6,1082.9 C644.1,1084.7 644.8,1081.5 645.3,1082.0 C645.9,1082.6 646.5,1084.1 647.0,1086.2 C647.4,1088.3 647.1,1092.3 647.8,1094.5 C648.5,1096.7 649.7,1098.6 651.1,1099.4 C652.5,1100.3 654.7,1098.3 656.1,1099.4 C657.5,1100.6 658.0,1103.9 659.4,1106.1 C660.8,1108.3 663.0,1110.5 664.4,1112.7 C665.7,1114.9 666.6,1116.6 667.7,1119.3 C668.8,1122.1 670.0,1126.8 671.0,1129.3 C672.0,1131.8 672.7,1134.0 673.5,1134.3 C674.3,1134.5 675.0,1131.5 676.0,1130.9 C676.9,1130.4 678.3,1130.1 679.3,1130.9 C680.2,1131.8 680.8,1134.9 681.8,1135.9 C682.7,1136.9 684.0,1137.8 685.1,1136.7 C686.2,1135.6 687.2,1131.1 688.4,1129.3 C689.6,1127.5 691.2,1126.1 692.5,1126.0 C693.9,1125.8 695.7,1127.1 696.7,1128.5 C697.7,1129.8 697.5,1133.1 698.3,1134.3 C699.2,1135.4 700.6,1135.4 701.7,1135.1 C702.8,1134.8 704.0,1133.8 705.0,1132.6 C705.9,1131.4 706.6,1127.9 707.5,1127.6 C708.3,1127.3 709.3,1129.7 709.9,1130.9 C710.6,1132.2 710.7,1134.8 711.6,1135.1 C712.5,1135.4 714.9,1133.0 715.5,1132.6"/>
<path fill="#e8cbbd" stroke="#2e130c" stroke-width="1.5" d="M130.7,1036.8 C131.6,1036.7 135.8,1037.9 137.3,1039.8 C138.8,1041.7 138.4,1045.4 139.8,1048.1 C141.2,1050.7 144.5,1053.6 145.6,1055.5 C146.7,1057.5 147.0,1058.9 146.4,1059.7 C145.9,1060.4 143.8,1060.8 142.3,1060.0 C140.7,1059.2 138.7,1057.0 137.3,1054.7 C135.9,1052.4 134.9,1048.8 134.0,1046.4 C133.0,1044.1 132.0,1042.2 131.5,1040.6 C130.9,1039.0 129.7,1036.9 130.7,1036.8 Z"/>
<path fill="#e8cbbd" stroke="#2e130c" stroke-width="1.5" d="M141.1,1069.3 C142.3,1069.4 145.7,1070.4 148.1,1072.1 C150.5,1073.8 153.7,1077.2 155.5,1079.6 C157.3,1081.9 158.4,1084.4 158.8,1086.2 C159.3,1088.0 159.0,1089.9 158.0,1090.3 C157.0,1090.7 155.0,1089.9 153.0,1088.7 C151.1,1087.4 148.2,1084.9 146.4,1082.9 C144.6,1080.8 143.2,1078.2 142.3,1076.2 C141.3,1074.3 140.8,1072.4 140.6,1071.3 C140.4,1070.1 139.9,1069.1 141.1,1069.3 Z"/>
<path fill="#e8cbbd" stroke="#2e130c" stroke-width="1.5" d="M636.2,1008.3 C637.3,1007.5 641.2,1007.4 642.8,1008.0 C644.5,1008.5 645.4,1010.2 646.1,1011.6 C646.8,1013.0 646.3,1014.9 647.0,1016.6 C647.7,1018.2 649.6,1020.0 650.3,1021.5 C651.0,1023.1 651.7,1024.9 651.1,1025.7 C650.6,1026.5 648.2,1027.2 647.0,1026.5 C645.7,1025.8 645.0,1023.2 643.6,1021.5 C642.3,1019.9 639.9,1018.1 638.7,1016.6 C637.4,1015.1 636.6,1013.8 636.2,1012.4 C635.8,1011.0 635.1,1009.0 636.2,1008.3 Z"/>
<path fill="#e8cbbd" stroke="#2e130c" stroke-width="1.5" d="M649.4,1034.0 C650.7,1033.7 653.9,1033.8 656.1,1034.8 C658.3,1035.8 661.6,1038.1 662.7,1039.8 C663.8,1041.4 663.5,1043.6 662.7,1044.8 C661.9,1045.9 659.4,1046.0 657.7,1046.4 C656.1,1046.8 653.7,1046.1 652.8,1047.2 C651.8,1048.3 651.9,1051.4 651.9,1053.0 C651.9,1054.7 653.2,1056.5 652.8,1057.2 C652.3,1057.9 650.4,1057.9 649.4,1057.2 C648.5,1056.5 647.2,1055.4 647.0,1053.0 C646.7,1050.7 647.5,1045.9 647.8,1043.1 C648.1,1040.3 648.3,1038.0 648.6,1036.5 C648.9,1034.9 648.2,1034.3 649.4,1034.0 Z"/>
<path fill="#e8cbbd" stroke="#2e130c" stroke-width="1.5" d="M657.7,1055.0 C659.0,1055.0 662.3,1056.0 663.5,1057.2 C664.8,1058.4 665.3,1060.7 665.2,1062.2 C665.1,1063.6 663.8,1065.4 662.7,1066.0 C661.6,1066.5 659.7,1066.2 658.6,1065.5 C657.4,1064.8 656.2,1063.0 655.7,1061.7 C655.3,1060.3 655.4,1058.3 655.7,1057.2 C656.1,1056.1 656.4,1055.0 657.7,1055.0 Z"/>
<path fill="#e8cbbd" stroke="#2e130c" stroke-width="1.5" d="M653.6,1071.3 C654.6,1070.4 655.9,1071.8 657.7,1072.9 C659.5,1074.0 662.4,1076.0 664.4,1077.9 C666.3,1079.8 667.8,1082.6 669.3,1084.5 C670.9,1086.5 672.9,1087.7 673.5,1089.5 C674.0,1091.3 673.5,1094.5 672.7,1095.3 C671.8,1096.1 669.9,1095.4 668.5,1094.5 C667.1,1093.5 665.9,1090.3 664.4,1089.5 C662.8,1088.7 660.8,1089.2 659.4,1089.5 C658.0,1089.8 657.0,1091.7 656.1,1091.2 C655.1,1090.6 654.3,1088.4 653.6,1086.2 C652.9,1084.0 651.9,1080.4 651.9,1077.9 C651.9,1075.4 652.6,1072.1 653.6,1071.3 Z"/>
<path fill="#e8cbbd" stroke="#2e130c" stroke-width="1.5" d="M671.0,1101.1 C672.1,1101.0 674.2,1102.2 675.1,1103.6 C676.1,1105.0 676.1,1107.7 676.8,1109.4 C677.5,1111.0 679.3,1112.3 679.3,1113.5 C679.3,1114.8 677.9,1116.6 676.8,1116.9 C675.7,1117.1 673.8,1116.4 672.7,1115.2 C671.5,1114.0 670.9,1111.2 670.2,1109.4 C669.5,1107.6 668.4,1105.8 668.5,1104.4 C668.6,1103.0 669.9,1101.2 671.0,1101.1 Z"/>
<path fill="#fff" stroke="#2e130c" stroke-width="1.4" d="M121.4,1037.3 C121.4,1038.5 121.3,1039.2 121.2,1040.1 C121.1,1041.0 121.0,1041.1 120.7,1041.5 C120.3,1041.9 120.0,1041.9 119.6,1041.9 C119.1,1041.9 118.8,1041.9 118.5,1041.5 C118.1,1041.1 118.1,1041.0 117.9,1040.1 C117.8,1039.2 117.7,1038.5 117.7,1037.3 C117.7,1036.1 117.8,1035.3 117.9,1034.5 C118.1,1033.6 118.1,1033.5 118.5,1033.1 C118.8,1032.7 119.1,1032.7 119.6,1032.7 C120.0,1032.7 120.3,1032.7 120.7,1033.1 C121.0,1033.5 121.1,1033.6 121.2,1034.5 C121.3,1035.3 121.4,1036.1 121.4,1037.3 Z M125.7,1062.1 C126.2,1065.8 126.4,1068.2 126.5,1071.0 C126.6,1073.7 126.6,1074.1 126.1,1075.4 C125.6,1076.6 125.0,1077.0 124.1,1077.1 C123.2,1077.2 122.5,1077.1 121.7,1076.0 C120.8,1074.9 120.7,1074.5 120.0,1071.9 C119.3,1069.2 118.9,1066.8 118.4,1063.2 C117.9,1059.5 117.6,1057.1 117.6,1054.3 C117.5,1051.6 117.5,1051.2 118.0,1049.9 C118.5,1048.7 119.1,1048.3 120.0,1048.2 C120.9,1048.1 121.6,1048.2 122.4,1049.3 C123.2,1050.4 123.4,1050.8 124.1,1053.4 C124.7,1056.1 125.1,1058.5 125.7,1062.1 Z M130.5,1126.1 C130.4,1128.6 130.2,1130.3 129.9,1132.1 C129.5,1134.0 129.4,1134.2 128.8,1135.0 C128.2,1135.8 127.6,1135.9 126.8,1135.9 C126.0,1135.9 125.5,1135.7 125.0,1134.8 C124.4,1134.0 124.4,1133.7 124.2,1131.8 C124.0,1130.0 124.1,1128.3 124.2,1125.8 C124.3,1123.3 124.5,1121.6 124.8,1119.8 C125.2,1118.0 125.3,1117.7 125.9,1116.9 C126.5,1116.1 127.1,1116.0 127.9,1116.0 C128.7,1116.1 129.2,1116.3 129.7,1117.1 C130.3,1117.9 130.3,1118.2 130.5,1120.1 C130.7,1122.0 130.6,1123.6 130.5,1126.1 Z M157.2,1130.9 C157.2,1132.1 157.1,1132.7 156.8,1133.8 C156.4,1134.8 156.2,1135.2 155.6,1135.8 C155.0,1136.4 154.7,1136.6 154.0,1136.6 C153.4,1136.6 153.0,1136.4 152.5,1135.8 C151.9,1135.2 151.6,1134.8 151.3,1133.8 C151.0,1132.7 150.9,1132.1 150.9,1130.9 C150.9,1129.8 151.0,1129.1 151.3,1128.1 C151.6,1127.1 151.9,1126.6 152.5,1126.1 C153.0,1125.5 153.4,1125.3 154.0,1125.3 C154.7,1125.3 155.0,1125.5 155.6,1126.1 C156.2,1126.6 156.4,1127.1 156.8,1128.1 C157.1,1129.1 157.2,1129.8 157.2,1130.9 Z M174.9,1136.9 C174.9,1137.4 174.8,1137.7 174.5,1138.1 C174.2,1138.5 174.0,1138.7 173.5,1138.9 C173.0,1139.2 172.7,1139.2 172.1,1139.2 C171.5,1139.2 171.2,1139.2 170.7,1138.9 C170.2,1138.7 170.0,1138.5 169.7,1138.1 C169.4,1137.7 169.3,1137.4 169.3,1136.9 C169.3,1136.4 169.4,1136.2 169.7,1135.7 C170.0,1135.3 170.2,1135.1 170.7,1134.9 C171.2,1134.7 171.5,1134.6 172.1,1134.6 C172.7,1134.6 173.0,1134.7 173.5,1134.9 C174.0,1135.1 174.2,1135.3 174.5,1135.7 C174.8,1136.2 174.9,1136.4 174.9,1136.9 Z M250.7,1135.9 C250.7,1136.6 250.6,1137.0 250.3,1137.6 C250.0,1138.2 249.8,1138.4 249.3,1138.8 C248.9,1139.1 248.6,1139.2 248.0,1139.2 C247.5,1139.2 247.2,1139.1 246.7,1138.8 C246.2,1138.4 246.0,1138.2 245.7,1137.6 C245.4,1137.0 245.4,1136.6 245.4,1135.9 C245.4,1135.2 245.4,1134.8 245.7,1134.3 C246.0,1133.7 246.2,1133.4 246.7,1133.0 C247.2,1132.7 247.5,1132.6 248.0,1132.6 C248.6,1132.6 248.9,1132.7 249.3,1133.0 C249.8,1133.4 250.0,1133.7 250.3,1134.3 C250.6,1134.8 250.7,1135.2 250.7,1135.9 Z M311.0,1126.9 C310.8,1127.6 310.5,1127.9 310.1,1128.4 C309.6,1128.8 309.3,1129.0 308.7,1129.1 C308.1,1129.3 307.8,1129.3 307.2,1129.1 C306.7,1128.9 306.4,1128.7 306.0,1128.2 C305.7,1127.7 305.6,1127.3 305.5,1126.7 C305.4,1126.0 305.5,1125.6 305.7,1125.0 C305.9,1124.4 306.1,1124.0 306.6,1123.6 C307.1,1123.1 307.4,1122.9 308.0,1122.8 C308.6,1122.6 308.9,1122.7 309.5,1122.9 C310.0,1123.1 310.3,1123.3 310.6,1123.8 C311.0,1124.2 311.1,1124.6 311.2,1125.2 C311.3,1125.9 311.2,1126.3 311.0,1126.9 Z M343.0,1108.1 C343.0,1110.0 342.9,1111.3 342.7,1112.8 C342.5,1114.2 342.5,1114.5 342.0,1115.1 C341.5,1115.7 341.1,1115.9 340.5,1115.9 C339.9,1115.9 339.5,1115.7 339.0,1115.1 C338.5,1114.5 338.5,1114.2 338.3,1112.8 C338.1,1111.3 338.0,1110.0 338.0,1108.1 C338.0,1106.1 338.1,1104.8 338.3,1103.3 C338.5,1101.9 338.5,1101.7 339.0,1101.0 C339.5,1100.4 339.9,1100.3 340.5,1100.3 C341.1,1100.3 341.5,1100.4 342.0,1101.0 C342.5,1101.7 342.5,1101.9 342.7,1103.3 C342.9,1104.8 343.0,1106.1 343.0,1108.1 Z M363.5,1118.5 C363.5,1122.5 363.5,1125.1 363.1,1128.1 C362.8,1131.0 362.7,1131.4 361.9,1132.7 C361.1,1134.0 360.4,1134.3 359.4,1134.3 C358.4,1134.3 357.6,1134.0 356.9,1132.7 C356.1,1131.4 356.0,1131.0 355.7,1128.1 C355.3,1125.1 355.2,1122.5 355.2,1118.5 C355.2,1114.6 355.3,1111.9 355.7,1108.9 C356.0,1106.0 356.1,1105.6 356.9,1104.3 C357.6,1103.0 358.4,1102.8 359.4,1102.8 C360.4,1102.8 361.1,1103.0 361.9,1104.3 C362.7,1105.6 362.8,1106.0 363.1,1108.9 C363.5,1111.9 363.5,1114.6 363.5,1118.5 Z M382.6,1118.0 C382.6,1122.3 382.5,1125.1 382.2,1128.3 C381.9,1131.4 381.7,1131.9 381.0,1133.3 C380.2,1134.6 379.5,1134.9 378.5,1134.9 C377.4,1134.9 376.7,1134.6 375.9,1133.3 C375.2,1131.9 375.1,1131.4 374.7,1128.3 C374.4,1125.1 374.3,1122.3 374.3,1118.0 C374.3,1113.8 374.4,1110.9 374.7,1107.7 C375.1,1104.6 375.2,1104.1 375.9,1102.8 C376.7,1101.4 377.4,1101.1 378.5,1101.1 C379.5,1101.1 380.2,1101.4 381.0,1102.8 C381.7,1104.1 381.9,1104.6 382.2,1107.7 C382.5,1110.9 382.6,1113.8 382.6,1118.0 Z M368.2,1033.9 C367.9,1034.4 367.6,1034.7 367.1,1035.0 C366.7,1035.4 366.3,1035.5 365.8,1035.5 C365.3,1035.6 365.0,1035.5 364.5,1035.2 C364.1,1035.0 363.9,1034.8 363.7,1034.3 C363.4,1033.8 363.4,1033.5 363.4,1032.9 C363.5,1032.3 363.6,1031.9 363.9,1031.4 C364.2,1030.9 364.4,1030.6 364.9,1030.3 C365.4,1029.9 365.7,1029.8 366.2,1029.8 C366.8,1029.7 367.1,1029.8 367.5,1030.1 C368.0,1030.3 368.2,1030.5 368.4,1031.0 C368.6,1031.5 368.7,1031.8 368.6,1032.4 C368.6,1033.0 368.5,1033.4 368.2,1033.9 Z M395.0,1020.7 C395.0,1021.4 394.9,1021.8 394.6,1022.4 C394.2,1023.0 394.0,1023.2 393.4,1023.6 C392.8,1023.9 392.4,1024.0 391.7,1024.0 C391.0,1024.0 390.6,1023.9 390.1,1023.6 C389.5,1023.2 389.2,1023.0 388.8,1022.4 C388.5,1021.8 388.4,1021.4 388.4,1020.7 C388.4,1020.0 388.5,1019.7 388.8,1019.1 C389.2,1018.5 389.5,1018.2 390.1,1017.8 C390.6,1017.5 391.0,1017.4 391.7,1017.4 C392.4,1017.4 392.8,1017.5 393.4,1017.8 C394.0,1018.2 394.2,1018.5 394.6,1019.1 C394.9,1019.7 395.0,1020.0 395.0,1020.7 Z M393.8,1047.7 C393.6,1049.3 393.3,1050.3 392.9,1051.4 C392.5,1052.5 392.4,1052.7 391.8,1053.1 C391.2,1053.5 390.8,1053.6 390.1,1053.4 C389.5,1053.3 389.0,1053.1 388.6,1052.6 C388.2,1052.0 388.2,1051.8 388.2,1050.6 C388.2,1049.4 388.3,1048.3 388.6,1046.8 C388.9,1045.2 389.1,1044.2 389.5,1043.1 C389.9,1041.9 390.0,1041.8 390.6,1041.4 C391.2,1040.9 391.7,1040.9 392.3,1041.0 C393.0,1041.2 393.4,1041.3 393.8,1041.9 C394.2,1042.5 394.2,1042.7 394.2,1043.9 C394.2,1045.1 394.1,1046.1 393.8,1047.7 Z M399.0,1094.1 C399.0,1095.4 399.0,1096.2 398.8,1097.2 C398.6,1098.1 398.5,1098.2 398.0,1098.6 C397.6,1099.0 397.1,1099.1 396.5,1099.1 C395.9,1099.1 395.5,1099.0 395.0,1098.6 C394.5,1098.2 394.5,1098.1 394.3,1097.2 C394.1,1096.2 394.0,1095.4 394.0,1094.1 C394.0,1092.9 394.1,1092.1 394.3,1091.1 C394.5,1090.2 394.5,1090.1 395.0,1089.7 C395.5,1089.3 395.9,1089.2 396.5,1089.2 C397.1,1089.2 397.6,1089.3 398.0,1089.7 C398.5,1090.1 398.6,1090.2 398.8,1091.1 C399.0,1092.1 399.0,1092.9 399.0,1094.1 Z M424.9,1022.7 C424.9,1023.7 424.8,1024.2 424.5,1025.0 C424.2,1025.9 423.9,1026.2 423.4,1026.7 C422.8,1027.2 422.5,1027.3 421.9,1027.3 C421.3,1027.3 420.9,1027.2 420.4,1026.7 C419.9,1026.2 419.6,1025.9 419.3,1025.0 C419.0,1024.2 418.9,1023.7 418.9,1022.7 C418.9,1021.7 419.0,1021.2 419.3,1020.4 C419.6,1019.6 419.9,1019.2 420.4,1018.7 C420.9,1018.2 421.3,1018.1 421.9,1018.1 C422.5,1018.1 422.8,1018.2 423.4,1018.7 C423.9,1019.2 424.2,1019.6 424.5,1020.4 C424.8,1021.2 424.9,1021.7 424.9,1022.7 Z M417.4,1087.8 C417.4,1091.7 417.3,1094.3 416.9,1097.2 C416.5,1100.1 416.4,1100.5 415.4,1101.7 C414.5,1103.0 413.7,1103.3 412.4,1103.3 C411.2,1103.3 410.3,1103.0 409.4,1101.7 C408.5,1100.5 408.4,1100.1 407.9,1097.2 C407.5,1094.3 407.5,1091.7 407.5,1087.8 C407.5,1084.0 407.5,1081.4 407.9,1078.5 C408.4,1075.6 408.5,1075.2 409.4,1073.9 C410.3,1072.7 411.2,1072.4 412.4,1072.4 C413.7,1072.4 414.5,1072.7 415.4,1073.9 C416.4,1075.2 416.5,1075.6 416.9,1078.5 C417.3,1081.4 417.4,1084.0 417.4,1087.8 Z M434.4,1117.7 C433.6,1122.2 433.0,1125.2 432.0,1128.5 C431.1,1131.8 430.9,1132.2 429.8,1133.5 C428.6,1134.8 427.8,1135.0 426.7,1134.8 C425.5,1134.6 424.8,1134.2 424.2,1132.6 C423.6,1130.9 423.6,1130.4 423.8,1127.0 C424.0,1123.6 424.5,1120.6 425.3,1116.0 C426.1,1111.5 426.7,1108.5 427.6,1105.2 C428.6,1101.9 428.8,1101.5 429.9,1100.2 C431.0,1098.9 431.9,1098.7 433.0,1098.9 C434.1,1099.1 434.9,1099.5 435.5,1101.2 C436.1,1102.8 436.1,1103.3 435.9,1106.7 C435.7,1110.1 435.2,1113.2 434.4,1117.7 Z M460.3,1018.1 C460.1,1019.4 459.9,1020.3 459.6,1021.3 C459.3,1022.3 459.2,1022.4 458.7,1022.8 C458.2,1023.2 457.8,1023.2 457.2,1023.2 C456.7,1023.1 456.3,1022.9 455.9,1022.4 C455.6,1021.9 455.5,1021.8 455.5,1020.7 C455.4,1019.7 455.5,1018.8 455.7,1017.4 C455.9,1016.1 456.1,1015.1 456.4,1014.2 C456.7,1013.2 456.8,1013.0 457.3,1012.7 C457.8,1012.3 458.2,1012.2 458.8,1012.3 C459.3,1012.4 459.7,1012.5 460.1,1013.0 C460.5,1013.5 460.5,1013.7 460.5,1014.7 C460.6,1015.8 460.5,1016.7 460.3,1018.1 Z M458.0,1057.5 C458.0,1061.3 457.9,1063.9 457.7,1066.8 C457.4,1069.6 457.3,1070.0 456.6,1071.3 C455.9,1072.5 455.3,1072.8 454.4,1072.8 C453.4,1072.8 452.8,1072.5 452.2,1071.3 C451.5,1070.0 451.4,1069.6 451.1,1066.8 C450.8,1063.9 450.7,1061.3 450.7,1057.5 C450.7,1053.7 450.8,1051.1 451.1,1048.3 C451.4,1045.4 451.5,1045.0 452.2,1043.8 C452.8,1042.5 453.4,1042.3 454.4,1042.3 C455.3,1042.3 455.9,1042.5 456.6,1043.8 C457.3,1045.0 457.4,1045.4 457.7,1048.3 C457.9,1051.1 458.0,1053.7 458.0,1057.5 Z M457.2,1100.3 C457.2,1104.4 457.1,1107.3 456.9,1110.3 C456.6,1113.4 456.5,1113.9 455.9,1115.2 C455.3,1116.6 454.7,1116.9 453.9,1116.9 C453.0,1116.9 452.5,1116.6 451.9,1115.2 C451.2,1113.9 451.1,1113.4 450.9,1110.3 C450.6,1107.3 450.6,1104.4 450.6,1100.3 C450.6,1096.1 450.6,1093.3 450.9,1090.2 C451.1,1087.1 451.2,1086.7 451.9,1085.3 C452.5,1084.0 453.0,1083.7 453.9,1083.7 C454.7,1083.7 455.3,1084.0 455.9,1085.3 C456.5,1086.7 456.6,1087.1 456.9,1090.2 C457.1,1093.3 457.2,1096.1 457.2,1100.3 Z M490.3,1013.6 C490.3,1014.1 490.2,1014.4 489.7,1014.9 C489.2,1015.4 488.8,1015.6 488.0,1015.9 C487.2,1016.2 486.6,1016.2 485.7,1016.2 C484.7,1016.2 484.2,1016.2 483.4,1015.9 C482.5,1015.6 482.2,1015.4 481.7,1014.9 C481.2,1014.4 481.0,1014.1 481.0,1013.6 C481.0,1013.0 481.2,1012.7 481.7,1012.3 C482.2,1011.8 482.5,1011.6 483.4,1011.3 C484.2,1011.0 484.7,1010.9 485.7,1010.9 C486.6,1010.9 487.2,1011.0 488.0,1011.3 C488.8,1011.6 489.2,1011.8 489.7,1012.3 C490.2,1012.7 490.3,1013.0 490.3,1013.6 Z M491.8,1078.1 C490.7,1085.5 489.9,1090.5 488.8,1096.0 C487.6,1101.4 487.4,1102.2 486.1,1104.5 C484.8,1106.7 483.9,1107.1 482.7,1106.9 C481.5,1106.8 480.7,1106.1 480.1,1103.6 C479.5,1101.1 479.5,1100.3 479.9,1094.7 C480.3,1089.2 480.9,1084.1 481.9,1076.7 C483.0,1069.3 483.8,1064.3 484.9,1058.8 C486.1,1053.4 486.4,1052.6 487.6,1050.3 C488.9,1048.1 489.8,1047.7 491.0,1047.9 C492.2,1048.0 493.0,1048.7 493.6,1051.2 C494.2,1053.7 494.2,1054.5 493.8,1060.1 C493.4,1065.7 492.8,1070.7 491.8,1078.1 Z M506.7,1066.3 C506.7,1067.8 506.7,1068.7 506.5,1069.8 C506.3,1070.9 506.2,1071.1 505.7,1071.5 C505.2,1072.0 504.8,1072.1 504.1,1072.1 C503.4,1072.1 503.0,1072.0 502.5,1071.5 C502.0,1071.1 501.9,1070.9 501.7,1069.8 C501.5,1068.7 501.4,1067.8 501.4,1066.3 C501.4,1064.8 501.5,1063.9 501.7,1062.8 C501.9,1061.7 502.0,1061.5 502.5,1061.1 C503.0,1060.6 503.4,1060.5 504.1,1060.5 C504.8,1060.5 505.2,1060.6 505.7,1061.1 C506.2,1061.5 506.3,1061.7 506.5,1062.8 C506.7,1063.9 506.7,1064.8 506.7,1066.3 Z M520.5,1112.4 C520.2,1117.3 520.0,1120.6 519.5,1124.2 C519.0,1127.9 518.9,1128.4 518.1,1129.9 C517.4,1131.5 516.7,1131.8 515.8,1131.7 C514.9,1131.7 514.3,1131.3 513.7,1129.7 C513.1,1128.1 513.1,1127.6 512.9,1123.9 C512.8,1120.2 513.0,1116.9 513.2,1112.0 C513.5,1107.1 513.7,1103.8 514.2,1100.2 C514.7,1096.6 514.8,1096.0 515.6,1094.5 C516.3,1092.9 517.0,1092.6 517.9,1092.7 C518.8,1092.7 519.4,1093.1 520.0,1094.7 C520.6,1096.3 520.7,1096.9 520.8,1100.5 C520.9,1104.2 520.7,1107.5 520.5,1112.4 Z M541.5,1059.7 C541.5,1063.4 541.5,1065.9 541.2,1068.7 C540.8,1071.5 540.7,1071.9 540.0,1073.1 C539.2,1074.3 538.6,1074.6 537.6,1074.6 C536.6,1074.6 535.9,1074.3 535.2,1073.1 C534.4,1071.9 534.3,1071.5 534.0,1068.7 C533.7,1065.9 533.6,1063.4 533.6,1059.7 C533.6,1055.9 533.7,1053.4 534.0,1050.6 C534.3,1047.8 534.4,1047.4 535.2,1046.2 C535.9,1045.0 536.6,1044.8 537.6,1044.8 C538.6,1044.8 539.2,1045.0 540.0,1046.2 C540.7,1047.4 540.8,1047.8 541.2,1050.6 C541.5,1053.4 541.5,1055.9 541.5,1059.7 Z M537.3,1088.3 C536.9,1089.5 536.6,1090.2 535.9,1091.1 C535.2,1092.0 534.7,1092.4 533.8,1092.8 C532.8,1093.1 532.3,1093.2 531.4,1092.9 C530.5,1092.7 530.0,1092.4 529.4,1091.6 C528.8,1090.8 528.6,1090.2 528.4,1089.1 C528.2,1087.9 528.3,1087.2 528.6,1086.0 C528.9,1084.8 529.2,1084.2 530.0,1083.3 C530.7,1082.4 531.2,1082.0 532.1,1081.6 C533.0,1081.2 533.6,1081.2 534.5,1081.4 C535.4,1081.7 535.8,1082.0 536.4,1082.8 C537.0,1083.6 537.3,1084.2 537.4,1085.3 C537.6,1086.5 537.6,1087.1 537.3,1088.3 Z M540.9,1112.6 C540.5,1116.2 540.3,1118.7 539.7,1121.4 C539.1,1124.1 538.9,1124.4 538.0,1125.5 C537.0,1126.7 536.3,1126.8 535.1,1126.7 C534.0,1126.6 533.3,1126.3 532.6,1125.1 C531.8,1123.8 531.7,1123.4 531.6,1120.7 C531.5,1117.9 531.6,1115.5 532.0,1111.8 C532.3,1108.2 532.6,1105.7 533.2,1103.0 C533.8,1100.4 533.9,1100.0 534.8,1098.9 C535.8,1097.8 536.6,1097.6 537.7,1097.7 C538.8,1097.8 539.5,1098.1 540.3,1099.3 C541.0,1100.6 541.1,1101.0 541.2,1103.7 C541.3,1106.5 541.2,1109.0 540.9,1112.6 Z M552.8,1134.3 C552.8,1134.9 552.7,1135.3 552.3,1135.8 C552.0,1136.4 551.6,1136.7 551.0,1137.0 C550.3,1137.3 549.9,1137.4 549.2,1137.4 C548.4,1137.4 548.0,1137.3 547.3,1137.0 C546.7,1136.7 546.4,1136.4 546.0,1135.8 C545.6,1135.3 545.5,1134.9 545.5,1134.3 C545.5,1133.6 545.6,1133.2 546.0,1132.7 C546.4,1132.1 546.7,1131.9 547.3,1131.5 C548.0,1131.2 548.4,1131.1 549.2,1131.1 C549.9,1131.1 550.3,1131.2 551.0,1131.5 C551.6,1131.9 552.0,1132.1 552.3,1132.7 C552.7,1133.2 552.8,1133.6 552.8,1134.3 Z M550.7,1021.2 C550.7,1022.5 550.6,1023.4 550.4,1024.4 C550.2,1025.4 550.2,1025.6 549.8,1026.0 C549.3,1026.4 548.9,1026.5 548.3,1026.5 C547.8,1026.5 547.4,1026.4 546.9,1026.0 C546.5,1025.6 546.4,1025.4 546.3,1024.4 C546.1,1023.4 546.0,1022.5 546.0,1021.2 C546.0,1019.9 546.1,1019.0 546.3,1018.0 C546.4,1017.0 546.5,1016.9 546.9,1016.4 C547.4,1016.0 547.8,1015.9 548.3,1015.9 C548.9,1015.9 549.3,1016.0 549.8,1016.4 C550.2,1016.9 550.2,1017.0 550.4,1018.0 C550.6,1019.0 550.7,1019.9 550.7,1021.2 Z M563.3,1011.8 C563.3,1012.2 563.2,1012.5 562.9,1012.9 C562.6,1013.2 562.5,1013.3 561.8,1013.4 C561.1,1013.6 560.4,1013.6 559.4,1013.6 C558.5,1013.6 557.8,1013.6 557.1,1013.4 C556.4,1013.3 556.3,1013.2 556.0,1012.9 C555.7,1012.5 555.6,1012.2 555.6,1011.8 C555.6,1011.3 555.7,1011.0 556.0,1010.7 C556.3,1010.3 556.4,1010.3 557.1,1010.1 C557.8,1010.0 558.5,1009.9 559.4,1009.9 C560.4,1009.9 561.1,1010.0 561.8,1010.1 C562.5,1010.3 562.6,1010.3 562.9,1010.7 C563.2,1011.0 563.3,1011.3 563.3,1011.8 Z M574.9,1017.4 C574.9,1018.3 574.7,1018.8 574.3,1019.6 C573.9,1020.4 573.5,1020.8 572.8,1021.3 C572.0,1021.7 571.6,1021.9 570.7,1021.9 C569.9,1021.9 569.4,1021.7 568.6,1021.3 C567.9,1020.8 567.6,1020.4 567.1,1019.6 C566.7,1018.8 566.6,1018.3 566.6,1017.4 C566.6,1016.5 566.7,1016.0 567.1,1015.2 C567.6,1014.4 567.9,1014.0 568.6,1013.5 C569.4,1013.1 569.9,1012.9 570.7,1012.9 C571.6,1012.9 572.0,1013.1 572.8,1013.5 C573.5,1014.0 573.9,1014.4 574.3,1015.2 C574.7,1016.0 574.9,1016.5 574.9,1017.4 Z M561.6,1042.5 C560.8,1048.1 560.1,1052.0 559.1,1056.1 C558.1,1060.3 557.9,1060.9 556.7,1062.6 C555.6,1064.3 554.7,1064.6 553.4,1064.4 C552.2,1064.2 551.4,1063.7 550.8,1061.8 C550.1,1059.8 550.1,1059.2 550.3,1054.9 C550.5,1050.6 550.9,1046.8 551.7,1041.1 C552.5,1035.4 553.1,1031.6 554.1,1027.4 C555.1,1023.2 555.3,1022.6 556.5,1020.9 C557.7,1019.2 558.6,1018.9 559.8,1019.1 C561.0,1019.3 561.8,1019.8 562.5,1021.8 C563.1,1023.7 563.2,1024.4 563.0,1028.6 C562.8,1032.9 562.4,1036.8 561.6,1042.5 Z M574.8,1029.2 C575.1,1030.3 575.2,1031.0 575.2,1031.8 C575.3,1032.6 575.2,1032.8 574.9,1033.2 C574.6,1033.7 574.2,1033.8 573.7,1034.0 C573.1,1034.1 572.7,1034.2 572.2,1034.0 C571.7,1033.7 571.6,1033.6 571.2,1032.9 C570.8,1032.2 570.6,1031.5 570.3,1030.4 C570.0,1029.4 569.9,1028.7 569.8,1027.8 C569.8,1027.0 569.8,1026.9 570.2,1026.4 C570.5,1026.0 570.9,1025.8 571.4,1025.7 C572.0,1025.5 572.4,1025.5 572.9,1025.7 C573.4,1025.9 573.5,1026.0 573.9,1026.8 C574.3,1027.5 574.5,1028.2 574.8,1029.2 Z M574.5,1043.6 C574.5,1044.4 574.4,1044.9 574.1,1045.7 C573.7,1046.4 573.4,1046.8 572.8,1047.2 C572.2,1047.6 571.8,1047.7 571.0,1047.7 C570.3,1047.7 569.9,1047.6 569.3,1047.2 C568.7,1046.8 568.4,1046.4 568.0,1045.7 C567.7,1044.9 567.6,1044.4 567.6,1043.6 C567.6,1042.7 567.7,1042.3 568.0,1041.5 C568.4,1040.8 568.7,1040.4 569.3,1040.0 C569.9,1039.6 570.3,1039.4 571.0,1039.4 C571.8,1039.4 572.2,1039.6 572.8,1040.0 C573.4,1040.4 573.7,1040.8 574.1,1041.5 C574.4,1042.3 574.5,1042.7 574.5,1043.6 Z M574.4,1061.2 C574.2,1062.9 574.1,1064.1 573.8,1065.3 C573.6,1066.6 573.5,1066.8 573.1,1067.3 C572.7,1067.9 572.4,1068.0 571.9,1067.9 C571.5,1067.9 571.2,1067.7 570.9,1067.2 C570.6,1066.6 570.6,1066.4 570.5,1065.1 C570.5,1063.8 570.6,1062.6 570.7,1060.8 C570.9,1059.1 571.0,1057.9 571.3,1056.6 C571.5,1055.4 571.6,1055.2 572.0,1054.6 C572.4,1054.1 572.7,1054.0 573.1,1054.1 C573.6,1054.1 573.9,1054.2 574.2,1054.8 C574.5,1055.4 574.5,1055.6 574.5,1056.9 C574.6,1058.2 574.5,1059.4 574.4,1061.2 Z M576.4,1076.1 C576.4,1076.8 576.2,1077.2 575.8,1077.8 C575.3,1078.4 574.9,1078.7 574.1,1079.1 C573.3,1079.5 572.8,1079.6 571.9,1079.6 C571.0,1079.6 570.4,1079.5 569.6,1079.1 C568.8,1078.7 568.5,1078.4 568.0,1077.8 C567.5,1077.2 567.4,1076.8 567.4,1076.1 C567.4,1075.4 567.5,1075.0 568.0,1074.3 C568.5,1073.7 568.8,1073.4 569.6,1073.1 C570.4,1072.7 571.0,1072.6 571.9,1072.6 C572.8,1072.6 573.3,1072.7 574.1,1073.1 C574.9,1073.4 575.3,1073.7 575.8,1074.3 C576.2,1075.0 576.4,1075.4 576.4,1076.1 Z M557.0,1103.3 C556.6,1109.4 556.4,1113.6 555.8,1118.1 C555.3,1122.7 555.2,1123.3 554.4,1125.3 C553.6,1127.3 552.9,1127.6 552.0,1127.6 C551.1,1127.5 550.5,1127.1 549.9,1125.1 C549.4,1123.0 549.3,1122.4 549.3,1117.8 C549.2,1113.2 549.4,1109.1 549.7,1102.9 C550.0,1096.8 550.3,1092.6 550.8,1088.0 C551.3,1083.5 551.5,1082.8 552.3,1080.9 C553.0,1078.9 553.7,1078.5 554.6,1078.6 C555.5,1078.6 556.1,1079.1 556.7,1081.1 C557.3,1083.1 557.3,1083.8 557.4,1088.4 C557.4,1093.0 557.3,1097.1 557.0,1103.3 Z M577.8,1095.1 C578.4,1098.1 578.8,1100.2 579.0,1102.5 C579.2,1104.8 579.2,1105.1 578.8,1106.2 C578.4,1107.3 577.9,1107.6 577.1,1107.8 C576.3,1108.0 575.7,1107.9 574.9,1107.0 C574.0,1106.2 573.9,1105.9 573.2,1103.7 C572.4,1101.5 571.9,1099.5 571.3,1096.5 C570.6,1093.5 570.3,1091.4 570.1,1089.1 C569.8,1086.8 569.9,1086.5 570.3,1085.4 C570.7,1084.3 571.2,1084.0 572.0,1083.8 C572.8,1083.6 573.4,1083.7 574.2,1084.6 C575.0,1085.4 575.2,1085.7 575.9,1087.9 C576.6,1090.1 577.1,1092.1 577.8,1095.1 Z M566.2,1095.6 C566.2,1096.8 566.2,1097.6 566.0,1098.5 C565.8,1099.3 565.7,1099.4 565.3,1099.8 C564.8,1100.2 564.4,1100.3 563.8,1100.3 C563.1,1100.3 562.7,1100.2 562.2,1099.8 C561.8,1099.4 561.7,1099.3 561.5,1098.5 C561.3,1097.6 561.3,1096.8 561.3,1095.6 C561.3,1094.5 561.3,1093.7 561.5,1092.8 C561.7,1092.0 561.8,1091.8 562.2,1091.5 C562.7,1091.1 563.1,1091.0 563.8,1091.0 C564.4,1091.0 564.8,1091.1 565.3,1091.5 C565.7,1091.8 565.8,1092.0 566.0,1092.8 C566.2,1093.7 566.2,1094.5 566.2,1095.6 Z M571.0,1117.7 C570.6,1120.3 570.2,1122.0 569.6,1123.9 C569.1,1125.7 568.9,1126.0 568.3,1126.8 C567.6,1127.5 567.1,1127.6 566.4,1127.5 C565.7,1127.3 565.3,1127.1 564.9,1126.2 C564.5,1125.2 564.5,1124.9 564.6,1123.0 C564.7,1121.0 565.0,1119.3 565.5,1116.7 C565.9,1114.1 566.3,1112.4 566.8,1110.5 C567.4,1108.6 567.5,1108.4 568.2,1107.6 C568.8,1106.9 569.3,1106.8 570.0,1106.9 C570.7,1107.0 571.2,1107.3 571.6,1108.2 C571.9,1109.1 571.9,1109.4 571.8,1111.4 C571.7,1113.3 571.5,1115.1 571.0,1117.7 Z M586.5,1131.0 C586.5,1131.8 586.4,1132.3 585.7,1132.9 C585.1,1133.4 584.9,1133.5 583.3,1133.9 C581.8,1134.2 580.4,1134.3 578.3,1134.4 C576.3,1134.5 574.8,1134.5 573.3,1134.4 C571.7,1134.2 571.5,1134.2 570.8,1133.6 C570.1,1133.1 569.9,1132.6 569.9,1131.9 C569.9,1131.1 570.0,1130.6 570.6,1130.0 C571.3,1129.4 571.5,1129.3 573.0,1129.0 C574.5,1128.7 575.9,1128.6 578.0,1128.5 C580.1,1128.3 581.5,1128.3 583.1,1128.5 C584.6,1128.6 584.8,1128.7 585.5,1129.2 C586.2,1129.8 586.4,1130.3 586.5,1131.0 Z M595.9,1031.5 C595.9,1032.1 595.8,1032.4 595.6,1033.0 C595.4,1033.5 595.2,1033.8 594.8,1034.1 C594.4,1034.4 594.2,1034.5 593.8,1034.5 C593.3,1034.5 593.1,1034.4 592.7,1034.1 C592.3,1033.8 592.1,1033.5 591.9,1033.0 C591.7,1032.4 591.6,1032.1 591.6,1031.5 C591.6,1030.9 591.7,1030.5 591.9,1030.0 C592.1,1029.5 592.3,1029.2 592.7,1028.9 C593.1,1028.6 593.3,1028.5 593.8,1028.5 C594.2,1028.5 594.4,1028.6 594.8,1028.9 C595.2,1029.2 595.4,1029.5 595.6,1030.0 C595.8,1030.5 595.9,1030.9 595.9,1031.5 Z M603.5,1043.4 C603.5,1045.8 603.5,1047.4 603.3,1049.2 C603.1,1050.9 603.0,1051.2 602.5,1051.9 C602.0,1052.7 601.5,1052.9 600.9,1052.9 C600.2,1052.9 599.8,1052.7 599.3,1051.9 C598.8,1051.2 598.7,1050.9 598.5,1049.2 C598.3,1047.4 598.2,1045.8 598.2,1043.4 C598.2,1041.1 598.3,1039.5 598.5,1037.7 C598.7,1035.9 598.8,1035.7 599.3,1034.9 C599.8,1034.1 600.2,1034.0 600.9,1034.0 C601.5,1034.0 602.0,1034.1 602.5,1034.9 C603.0,1035.7 603.1,1035.9 603.3,1037.7 C603.5,1039.5 603.5,1041.1 603.5,1043.4 Z M594.9,1048.9 C594.9,1049.9 594.9,1050.6 594.7,1051.4 C594.6,1052.2 594.5,1052.3 594.2,1052.6 C593.9,1053.0 593.6,1053.0 593.1,1053.0 C592.6,1053.0 592.3,1053.0 592.0,1052.6 C591.6,1052.3 591.6,1052.2 591.5,1051.4 C591.3,1050.6 591.3,1049.9 591.3,1048.9 C591.3,1047.9 591.3,1047.2 591.5,1046.4 C591.6,1045.6 591.6,1045.5 592.0,1045.2 C592.3,1044.8 592.6,1044.8 593.1,1044.8 C593.6,1044.8 593.9,1044.8 594.2,1045.2 C594.5,1045.5 594.6,1045.6 594.7,1046.4 C594.9,1047.2 594.9,1047.9 594.9,1048.9 Z M614.3,1016.7 C614.3,1017.5 614.2,1017.9 613.8,1018.5 C613.4,1019.1 613.0,1019.4 612.3,1019.8 C611.6,1020.1 611.2,1020.2 610.3,1020.2 C609.5,1020.2 609.1,1020.1 608.3,1019.8 C607.6,1019.4 607.3,1019.1 606.9,1018.5 C606.5,1017.9 606.4,1017.5 606.4,1016.7 C606.4,1016.0 606.5,1015.6 606.9,1015.0 C607.3,1014.4 607.6,1014.1 608.3,1013.7 C609.1,1013.4 609.5,1013.3 610.3,1013.3 C611.2,1013.3 611.6,1013.4 612.3,1013.7 C613.0,1014.1 613.4,1014.4 613.8,1015.0 C614.2,1015.6 614.3,1016.0 614.3,1016.7 Z M621.9,1023.4 C621.9,1023.9 621.9,1024.2 621.7,1024.7 C621.5,1025.2 621.3,1025.4 621.0,1025.7 C620.7,1025.9 620.5,1026.0 620.1,1026.0 C619.7,1026.0 619.5,1025.9 619.2,1025.7 C618.9,1025.4 618.7,1025.2 618.5,1024.7 C618.3,1024.2 618.3,1023.9 618.3,1023.4 C618.3,1022.8 618.3,1022.5 618.5,1022.0 C618.7,1021.6 618.9,1021.3 619.2,1021.1 C619.5,1020.8 619.7,1020.7 620.1,1020.7 C620.5,1020.7 620.7,1020.8 621.0,1021.1 C621.3,1021.3 621.5,1021.6 621.7,1022.0 C621.9,1022.5 621.9,1022.8 621.9,1023.4 Z M617.5,1034.8 C617.5,1036.9 617.4,1038.3 617.2,1039.8 C617.1,1041.4 617.0,1041.6 616.6,1042.3 C616.2,1043.0 615.8,1043.1 615.3,1043.1 C614.8,1043.1 614.4,1043.0 614.0,1042.3 C613.6,1041.6 613.5,1041.4 613.4,1039.8 C613.2,1038.3 613.1,1036.9 613.1,1034.8 C613.1,1032.7 613.2,1031.3 613.4,1029.8 C613.5,1028.2 613.6,1028.0 614.0,1027.3 C614.4,1026.7 614.8,1026.5 615.3,1026.5 C615.8,1026.5 616.2,1026.7 616.6,1027.3 C617.0,1028.0 617.1,1028.2 617.2,1029.8 C617.4,1031.3 617.5,1032.7 617.5,1034.8 Z M616.6,1068.0 C616.6,1073.6 616.6,1077.4 616.3,1081.6 C616.0,1085.8 615.9,1086.4 615.3,1088.3 C614.7,1090.1 614.1,1090.5 613.3,1090.5 C612.5,1090.5 611.9,1090.1 611.3,1088.3 C610.7,1086.4 610.6,1085.8 610.3,1081.6 C610.1,1077.4 610.0,1073.6 610.0,1068.0 C610.0,1062.3 610.1,1058.5 610.3,1054.3 C610.6,1050.1 610.7,1049.5 611.3,1047.6 C611.9,1045.8 612.5,1045.4 613.3,1045.4 C614.1,1045.4 614.7,1045.8 615.3,1047.6 C615.9,1049.5 616.0,1050.1 616.3,1054.3 C616.6,1058.5 616.6,1062.3 616.6,1068.0 Z M603.3,1073.4 C603.9,1076.4 604.3,1078.5 604.4,1080.8 C604.6,1083.1 604.6,1083.4 604.1,1084.6 C603.5,1085.7 602.9,1086.0 601.9,1086.3 C601.0,1086.5 600.3,1086.4 599.3,1085.6 C598.4,1084.8 598.2,1084.5 597.4,1082.3 C596.6,1080.1 596.1,1078.1 595.5,1075.1 C594.9,1072.1 594.5,1070.0 594.3,1067.7 C594.2,1065.4 594.2,1065.1 594.7,1063.9 C595.2,1062.8 595.9,1062.5 596.8,1062.3 C597.8,1062.0 598.5,1062.1 599.5,1062.9 C600.4,1063.8 600.6,1064.1 601.4,1066.2 C602.1,1068.4 602.6,1070.4 603.3,1073.4 Z M626.7,1048.6 C627.0,1049.2 627.0,1049.6 626.9,1050.2 C626.8,1050.8 626.7,1051.2 626.3,1051.6 C626.0,1052.1 625.7,1052.3 625.2,1052.5 C624.6,1052.7 624.3,1052.7 623.7,1052.6 C623.1,1052.5 622.8,1052.3 622.3,1051.9 C621.9,1051.4 621.7,1051.1 621.4,1050.5 C621.2,1049.9 621.2,1049.5 621.3,1048.9 C621.3,1048.3 621.5,1048.0 621.8,1047.5 C622.2,1047.0 622.5,1046.8 623.0,1046.6 C623.6,1046.4 623.9,1046.4 624.5,1046.5 C625.1,1046.6 625.4,1046.8 625.8,1047.2 C626.3,1047.7 626.5,1048.0 626.7,1048.6 Z M625.1,1064.6 C625.1,1066.3 625.0,1067.4 624.8,1068.7 C624.6,1069.9 624.5,1070.1 624.0,1070.6 C623.5,1071.2 623.1,1071.3 622.4,1071.3 C621.8,1071.3 621.3,1071.2 620.8,1070.6 C620.3,1070.1 620.3,1069.9 620.0,1068.7 C619.8,1067.4 619.8,1066.3 619.8,1064.6 C619.8,1063.0 619.8,1061.9 620.0,1060.6 C620.3,1059.4 620.3,1059.2 620.8,1058.7 C621.3,1058.1 621.8,1058.0 622.4,1058.0 C623.1,1058.0 623.5,1058.1 624.0,1058.7 C624.5,1059.2 624.6,1059.4 624.8,1060.6 C625.0,1061.9 625.1,1063.0 625.1,1064.6 Z M641.0,1072.6 C641.0,1073.6 641.0,1074.2 640.8,1074.9 C640.6,1075.6 640.6,1075.7 640.2,1076.0 C639.8,1076.3 639.5,1076.4 639.0,1076.4 C638.5,1076.4 638.2,1076.3 637.8,1076.0 C637.4,1075.7 637.4,1075.6 637.2,1074.9 C637.1,1074.2 637.0,1073.6 637.0,1072.6 C637.0,1071.6 637.1,1071.0 637.2,1070.3 C637.4,1069.6 637.4,1069.5 637.8,1069.2 C638.2,1068.9 638.5,1068.8 639.0,1068.8 C639.5,1068.8 639.8,1068.9 640.2,1069.2 C640.6,1069.5 640.6,1069.6 640.8,1070.3 C641.0,1071.0 641.0,1071.6 641.0,1072.6 Z M631.5,1088.2 C631.1,1091.1 630.8,1093.1 630.2,1095.2 C629.6,1097.3 629.4,1097.6 628.6,1098.5 C627.8,1099.3 627.2,1099.5 626.3,1099.3 C625.4,1099.2 624.8,1098.9 624.2,1097.9 C623.7,1096.8 623.6,1096.5 623.7,1094.3 C623.7,1092.1 623.9,1090.1 624.3,1087.2 C624.7,1084.2 625.0,1082.3 625.6,1080.1 C626.2,1078.0 626.4,1077.7 627.2,1076.9 C628.0,1076.0 628.6,1075.9 629.5,1076.0 C630.4,1076.2 631.0,1076.4 631.6,1077.5 C632.1,1078.5 632.2,1078.8 632.2,1081.1 C632.1,1083.3 631.9,1085.3 631.5,1088.2 Z M601.8,1101.0 C602.1,1102.9 602.2,1104.2 602.2,1105.7 C602.1,1107.2 602.0,1107.4 601.5,1108.1 C600.9,1108.8 600.3,1109.0 599.5,1109.2 C598.6,1109.3 598.0,1109.2 597.3,1108.7 C596.6,1108.1 596.4,1108.0 595.9,1106.6 C595.5,1105.2 595.2,1103.9 595.0,1101.9 C594.7,1100.0 594.6,1098.7 594.6,1097.2 C594.7,1095.7 594.8,1095.5 595.3,1094.8 C595.9,1094.1 596.4,1093.8 597.3,1093.7 C598.2,1093.6 598.8,1093.7 599.5,1094.2 C600.2,1094.7 600.4,1094.9 600.8,1096.3 C601.3,1097.7 601.6,1099.0 601.8,1101.0 Z M616.6,1106.4 C616.6,1108.6 616.6,1110.0 616.2,1111.6 C615.9,1113.2 615.8,1113.5 615.0,1114.2 C614.2,1114.9 613.5,1115.0 612.5,1115.0 C611.4,1115.0 610.7,1114.9 610.0,1114.2 C609.2,1113.5 609.1,1113.2 608.8,1111.6 C608.4,1110.0 608.3,1108.6 608.3,1106.4 C608.3,1104.2 608.4,1102.8 608.8,1101.2 C609.1,1099.6 609.2,1099.3 610.0,1098.6 C610.7,1097.9 611.4,1097.8 612.5,1097.8 C613.5,1097.8 614.2,1097.9 615.0,1098.6 C615.8,1099.3 615.9,1099.6 616.2,1101.2 C616.6,1102.8 616.6,1104.2 616.6,1106.4 Z M637.2,1105.9 C637.5,1106.8 637.5,1107.3 637.4,1108.1 C637.3,1108.9 637.1,1109.4 636.7,1109.9 C636.3,1110.5 635.9,1110.7 635.3,1110.9 C634.7,1111.1 634.3,1111.0 633.6,1110.8 C633.0,1110.5 632.6,1110.2 632.1,1109.5 C631.6,1108.9 631.4,1108.4 631.2,1107.6 C630.9,1106.7 630.9,1106.2 631.0,1105.4 C631.1,1104.5 631.3,1104.1 631.7,1103.5 C632.1,1103.0 632.5,1102.7 633.1,1102.6 C633.7,1102.4 634.1,1102.4 634.8,1102.7 C635.4,1103.0 635.8,1103.3 636.3,1104.0 C636.8,1104.6 637.0,1105.1 637.2,1105.9 Z M627.4,1124.7 C627.1,1127.9 626.8,1130.1 626.3,1132.5 C625.8,1134.9 625.6,1135.3 624.8,1136.3 C624.0,1137.3 623.3,1137.4 622.3,1137.4 C621.3,1137.3 620.6,1137.0 620.0,1135.9 C619.3,1134.7 619.3,1134.4 619.2,1131.9 C619.1,1129.5 619.2,1127.2 619.5,1124.0 C619.7,1120.7 620.0,1118.5 620.5,1116.1 C621.1,1113.7 621.2,1113.3 622.0,1112.3 C622.9,1111.3 623.6,1111.2 624.6,1111.3 C625.6,1111.4 626.2,1111.6 626.9,1112.8 C627.5,1113.9 627.6,1114.2 627.7,1116.7 C627.8,1119.2 627.7,1121.4 627.4,1124.7 Z M649.2,1118.9 C648.9,1121.2 648.6,1122.8 648.1,1124.4 C647.5,1126.1 647.3,1126.3 646.5,1127.0 C645.6,1127.6 644.9,1127.7 643.8,1127.5 C642.8,1127.4 642.1,1127.1 641.5,1126.3 C640.8,1125.4 640.7,1125.2 640.7,1123.4 C640.6,1121.6 640.7,1120.1 641.0,1117.8 C641.4,1115.5 641.6,1113.9 642.2,1112.2 C642.8,1110.6 642.9,1110.3 643.8,1109.7 C644.7,1109.1 645.4,1109.0 646.4,1109.2 C647.5,1109.3 648.1,1109.6 648.8,1110.4 C649.5,1111.3 649.5,1111.5 649.6,1113.3 C649.7,1115.0 649.6,1116.6 649.2,1118.9 Z M605.1,1126.6 C605.4,1128.1 605.5,1129.2 605.5,1130.3 C605.5,1131.5 605.4,1131.7 605.0,1132.3 C604.5,1132.8 604.0,1133.0 603.3,1133.2 C602.5,1133.3 602.0,1133.3 601.4,1132.9 C600.8,1132.5 600.6,1132.3 600.2,1131.3 C599.8,1130.2 599.5,1129.2 599.3,1127.6 C599.0,1126.1 598.9,1125.1 598.9,1123.9 C599.0,1122.8 599.0,1122.6 599.5,1122.0 C599.9,1121.4 600.4,1121.2 601.1,1121.1 C601.9,1121.0 602.4,1121.0 603.0,1121.4 C603.7,1121.8 603.8,1121.9 604.2,1123.0 C604.6,1124.1 604.9,1125.1 605.1,1126.6 Z M635.9,1130.8 C635.9,1131.5 635.8,1131.9 635.4,1132.5 C635.1,1133.1 634.8,1133.4 634.3,1133.8 C633.7,1134.1 633.4,1134.3 632.7,1134.3 C632.1,1134.3 631.7,1134.1 631.1,1133.8 C630.6,1133.4 630.3,1133.1 630.0,1132.5 C629.7,1131.9 629.6,1131.5 629.6,1130.8 C629.6,1130.1 629.7,1129.7 630.0,1129.0 C630.3,1128.4 630.6,1128.1 631.1,1127.8 C631.7,1127.4 632.1,1127.3 632.7,1127.3 C633.4,1127.3 633.7,1127.4 634.3,1127.8 C634.8,1128.1 635.1,1128.4 635.4,1129.0 C635.8,1129.7 635.9,1130.1 635.9,1130.8 Z M649.8,1135.4 C649.8,1136.0 649.7,1136.3 649.4,1136.8 C649.1,1137.3 648.9,1137.6 648.5,1137.9 C648.0,1138.1 647.7,1138.2 647.1,1138.2 C646.6,1138.2 646.3,1138.1 645.8,1137.9 C645.3,1137.6 645.1,1137.3 644.8,1136.8 C644.6,1136.3 644.5,1136.0 644.5,1135.4 C644.5,1134.8 644.6,1134.5 644.8,1134.0 C645.1,1133.5 645.3,1133.3 645.8,1133.0 C646.3,1132.7 646.6,1132.6 647.1,1132.6 C647.7,1132.6 648.0,1132.7 648.5,1133.0 C648.9,1133.3 649.1,1133.5 649.4,1134.0 C649.7,1134.5 649.8,1134.8 649.8,1135.4 Z M660.7,1128.7 C660.5,1129.7 660.3,1130.3 659.8,1131.1 C659.3,1132.0 659.0,1132.4 658.3,1132.8 C657.7,1133.2 657.3,1133.3 656.7,1133.2 C656.0,1133.1 655.7,1132.9 655.2,1132.2 C654.8,1131.6 654.6,1131.1 654.4,1130.2 C654.3,1129.2 654.3,1128.6 654.5,1127.6 C654.7,1126.5 654.8,1126.0 655.3,1125.1 C655.8,1124.3 656.1,1123.9 656.8,1123.5 C657.4,1123.0 657.8,1122.9 658.5,1123.1 C659.1,1123.2 659.4,1123.4 659.9,1124.0 C660.4,1124.6 660.5,1125.1 660.7,1126.1 C660.9,1127.0 660.9,1127.6 660.7,1128.7 Z M654.9,1039.8 C654.9,1040.2 654.9,1040.4 654.7,1040.7 C654.5,1041.0 654.3,1041.2 654.0,1041.4 C653.7,1041.5 653.5,1041.6 653.1,1041.6 C652.7,1041.6 652.5,1041.5 652.2,1041.4 C651.9,1041.2 651.7,1041.0 651.5,1040.7 C651.3,1040.4 651.3,1040.2 651.3,1039.8 C651.3,1039.4 651.3,1039.2 651.5,1038.9 C651.7,1038.5 651.9,1038.4 652.2,1038.2 C652.5,1038.0 652.7,1038.0 653.1,1038.0 C653.5,1038.0 653.7,1038.0 654.0,1038.2 C654.3,1038.4 654.5,1038.5 654.7,1038.9 C654.9,1039.2 654.9,1039.4 654.9,1039.8 Z M659.1,1079.2 C659.1,1079.6 659.0,1079.9 658.8,1080.2 C658.5,1080.6 658.4,1080.7 658.0,1080.9 C657.6,1081.2 657.4,1081.2 656.9,1081.2 C656.5,1081.2 656.2,1081.2 655.8,1080.9 C655.4,1080.7 655.3,1080.6 655.0,1080.2 C654.8,1079.9 654.8,1079.6 654.8,1079.2 C654.8,1078.8 654.8,1078.6 655.0,1078.2 C655.3,1077.9 655.4,1077.7 655.8,1077.5 C656.2,1077.3 656.5,1077.2 656.9,1077.2 C657.4,1077.2 657.6,1077.3 658.0,1077.5 C658.4,1077.7 658.5,1077.9 658.8,1078.2 C659.0,1078.6 659.1,1078.8 659.1,1079.2 Z"/>
<path fill="#fff" stroke="#2e130c" stroke-width="1.4" d="M474.9,1122.7 C475.1,1120.6 477.9,1117.0 479.2,1116.0 C480.6,1115.1 481.4,1116.2 482.9,1116.9 C484.3,1117.5 485.9,1119.3 487.8,1120.2 C489.8,1121.0 492.9,1121.1 494.5,1121.8 C496.1,1122.5 497.5,1123.3 497.5,1124.3 C497.5,1125.3 496.4,1127.0 494.5,1127.6 C492.6,1128.2 489.0,1127.8 486.2,1128.0 C483.4,1128.1 479.8,1129.3 477.9,1128.5 C476.0,1127.6 474.7,1124.7 474.9,1122.7 Z M574.9,1119.3 C574.7,1117.1 580.5,1112.3 582.3,1109.4 C584.1,1106.5 584.7,1102.2 585.6,1101.9 C586.5,1101.7 587.3,1105.4 587.8,1107.7 C588.3,1110.1 588.1,1113.4 588.5,1116.0 C588.8,1118.6 590.7,1122.4 589.8,1123.5 C588.9,1124.6 585.6,1123.3 583.1,1122.7 C580.7,1122.0 575.0,1121.5 574.9,1119.3 Z M629.6,1054.7 C630.0,1052.4 632.7,1049.7 634.5,1048.1 C636.3,1046.4 639.3,1044.5 640.3,1044.8 C641.4,1045.0 641.2,1047.5 640.8,1049.7 C640.4,1051.9 638.8,1055.7 637.8,1058.0 C636.9,1060.4 636.3,1063.2 635.4,1063.8 C634.4,1064.4 633.0,1063.2 632.0,1061.7 C631.1,1060.1 629.1,1057.0 629.6,1054.7 Z M640.8,1089.5 C641.1,1086.9 643.6,1083.7 644.5,1083.7 C645.4,1083.7 645.9,1087.2 646.1,1089.5 C646.4,1091.9 646.7,1096.1 646.1,1097.8 C645.6,1099.4 643.7,1100.8 642.8,1099.4 C641.9,1098.1 640.6,1092.1 640.8,1089.5 Z"/>
<path fill="none" stroke="#c2156c" stroke-width="2.25" stroke-linecap="round" stroke-linejoin="round" d="M118.6,1109.4 C119.1,1108.0 120.6,1105.0 121.5,1101.1 C122.5,1097.2 123.6,1088.7 124.0,1086.2"/>
<path fill="none" stroke="#c2156c" stroke-width="2.35" stroke-linecap="round" stroke-linejoin="round" d="M129.5,1168.2 C129.7,1166.4 129.9,1161.7 130.7,1157.5 C131.4,1153.2 133.0,1147.2 134.0,1142.5 C134.9,1137.8 136.2,1133.7 136.5,1129.3 C136.7,1124.9 135.6,1120.4 135.6,1116.0 C135.6,1111.6 135.9,1106.4 136.5,1102.8 C137.0,1099.2 138.5,1095.9 139.0,1094.5"/>
<path fill="none" stroke="#7283c8" stroke-width="2.35" stroke-linecap="round" stroke-linejoin="round" d="M142.8,1168.2 C143.0,1167.3 143.3,1164.5 143.9,1162.4 C144.5,1160.4 146.1,1158.3 146.4,1155.8 C146.7,1153.3 146.5,1150.0 145.6,1147.5 C144.6,1145.0 141.4,1142.0 140.6,1140.9"/>
<path fill="none" stroke="#c2156c" stroke-width="2.35" stroke-linecap="round" stroke-linejoin="round" d="M153.0,1168.2 C153.6,1166.4 155.4,1160.6 156.4,1157.5 C157.3,1154.3 158.6,1151.7 158.8,1149.2 C159.1,1146.7 158.4,1144.5 158.0,1142.5 C157.6,1140.6 156.6,1138.4 156.4,1137.6"/>
<path fill="none" stroke="#c2156c" stroke-width="2.15" stroke-linecap="round" stroke-linejoin="round" d="M158.8,1146.7 L166.3,1142.5"/>
<path fill="none" stroke="#c2156c" stroke-width="2.15" stroke-linecap="round" stroke-linejoin="round" d="M157.2,1142.2 L151.7,1140.9"/>
<path fill="none" stroke="#7283c8" stroke-width="2.35" stroke-linecap="round" stroke-linejoin="round" d="M174.6,1168.2 L174.6,1155.8"/>
<path fill="none" stroke="#7283c8" stroke-width="2.35" stroke-linecap="round" stroke-linejoin="round" d="M174.6,1155.8 L168.8,1150.8"/>
<path fill="none" stroke="#7283c8" stroke-width="2.35" stroke-linecap="round" stroke-linejoin="round" d="M174.6,1155.8 C175.1,1154.1 177.1,1148.5 177.9,1145.9 C178.7,1143.2 179.3,1141.0 179.6,1140.1"/>
<path fill="none" stroke="#c2156c" stroke-width="2.35" stroke-linecap="round" stroke-linejoin="round" d="M195.3,1168.2 C195.7,1166.4 197.5,1160.6 197.8,1157.5 C198.1,1154.3 197.1,1150.6 197.0,1149.2"/>
<path fill="none" stroke="#c2156c" stroke-width="2.35" stroke-linecap="round" stroke-linejoin="round" d="M197.0,1149.2 L189.5,1140.1"/>
<path fill="none" stroke="#c2156c" stroke-width="2.35" stroke-linecap="round" stroke-linejoin="round" d="M197.0,1149.2 L203.6,1135.9"/>
<path fill="none" stroke="#7283c8" stroke-width="2.35" stroke-linecap="round" stroke-linejoin="round" d="M211.0,1168.2 C211.3,1166.4 212.2,1161.2 212.7,1157.5 C213.3,1153.7 214.2,1149.6 214.4,1145.9 C214.5,1142.1 213.7,1136.9 213.5,1135.1"/>
<path fill="none" stroke="#7283c8" stroke-width="2.05" stroke-linecap="round" stroke-linejoin="round" d="M214.4,1145.9 L216.9,1142.5"/>
<path fill="none" stroke="#c2156c" stroke-width="2.35" stroke-linecap="round" stroke-linejoin="round" d="M225.5,1168.2 C226.0,1166.4 227.5,1161.2 228.5,1157.5 C229.4,1153.7 230.4,1149.7 230.9,1145.9 C231.5,1142.0 231.6,1136.2 231.8,1134.3"/>
<path fill="none" stroke="#c2156c" stroke-width="2.15" stroke-linecap="round" stroke-linejoin="round" d="M231.8,1142.5 L239.2,1139.2"/>
<path fill="none" stroke="#7283c8" stroke-width="2.35" stroke-linecap="round" stroke-linejoin="round" d="M240.9,1168.2 C240.6,1166.4 239.2,1160.4 239.2,1157.5 C239.2,1154.6 240.3,1152.5 240.9,1150.8 C241.4,1149.2 242.3,1148.1 242.5,1147.5"/>
<path fill="none" stroke="#c2156c" stroke-width="2.35" stroke-linecap="round" stroke-linejoin="round" d="M252.5,1168.2 C252.8,1165.1 253.7,1155.1 254.1,1149.2 C254.6,1143.2 254.8,1135.4 255.0,1132.6"/>
<path fill="none" stroke="#c2156c" stroke-width="2.15" stroke-linecap="round" stroke-linejoin="round" d="M255.0,1144.2 L264.1,1140.9"/>
<path fill="none" stroke="#7283c8" stroke-width="2.35" stroke-linecap="round" stroke-linejoin="round" d="M272.4,1168.2 C272.4,1164.5 272.0,1151.8 272.4,1145.9 C272.8,1139.9 274.5,1136.7 274.9,1132.6 C275.2,1128.5 274.6,1122.9 274.5,1121.0"/>
<path fill="none" stroke="#7283c8" stroke-width="2.05" stroke-linecap="round" stroke-linejoin="round" d="M273.2,1140.9 L278.2,1135.9"/>
<path fill="none" stroke="#c2156c" stroke-width="2.45" stroke-linecap="round" stroke-linejoin="round" d="M290.6,1168.2 C290.5,1164.5 289.5,1152.3 289.8,1145.9 C290.1,1139.4 292.0,1134.5 292.3,1129.3 C292.5,1124.0 291.6,1116.9 291.4,1114.4"/>
<path fill="none" stroke="#c2156c" stroke-width="2.25" stroke-linecap="round" stroke-linejoin="round" d="M291.4,1139.2 L299.7,1132.6"/>
<path fill="none" stroke="#7283c8" stroke-width="2.35" stroke-linecap="round" stroke-linejoin="round" d="M313.8,1168.2 C313.8,1165.3 314.4,1155.9 313.8,1150.8 C313.3,1145.7 310.8,1142.3 310.5,1137.6 C310.2,1132.9 312.7,1128.2 312.2,1122.7 C311.6,1117.1 308.0,1107.5 307.2,1104.4"/>
<path fill="none" stroke="#7283c8" stroke-width="2.15" stroke-linecap="round" stroke-linejoin="round" d="M313.8,1149.2 L319.6,1135.9"/>
<path fill="none" stroke="#c2156c" stroke-width="3.20" stroke-linecap="round" stroke-linejoin="round" d="M331.2,1168.2 C331.4,1163.7 332.3,1148.2 332.0,1140.9 C331.8,1133.6 329.7,1130.7 329.6,1124.3 C329.4,1118.0 332.2,1109.7 331.2,1102.8 C330.2,1095.9 325.0,1086.2 323.8,1082.9"/>
<path fill="none" stroke="#c2156c" stroke-width="2.80" stroke-linecap="round" stroke-linejoin="round" d="M331.2,1101.1 C332.9,1099.2 339.6,1093.4 341.2,1089.5 C342.7,1085.6 340.5,1079.8 340.3,1077.9"/>
<path fill="none" stroke="#c2156c" stroke-width="2.35" stroke-linecap="round" stroke-linejoin="round" d="M329.6,1127.6 L326.6,1123.5"/>
<path fill="none" stroke="#7283c8" stroke-width="3.20" stroke-linecap="round" stroke-linejoin="round" d="M344.0,1168.2 C344.2,1161.7 344.9,1138.0 345.3,1129.3 C345.7,1120.6 345.0,1121.0 346.1,1116.0 C347.2,1111.0 350.8,1106.4 351.9,1099.4 C353.0,1092.5 353.0,1082.3 352.8,1074.6 C352.5,1066.9 350.7,1056.6 350.3,1053.0"/>
<path fill="none" stroke="#7283c8" stroke-width="2.80" stroke-linecap="round" stroke-linejoin="round" d="M351.9,1101.1 L364.4,1092.8"/>
<path fill="none" stroke="#7283c8" stroke-width="2.55" stroke-linecap="round" stroke-linejoin="round" d="M344.5,1129.3 L337.0,1124.3"/>
<path fill="none" stroke="#c2156c" stroke-width="3.40" stroke-linecap="round" stroke-linejoin="round" d="M366.9,1168.2 C366.3,1165.1 363.7,1157.9 363.5,1149.2 C363.4,1140.5 365.1,1124.9 366.0,1116.0 C367.0,1107.2 368.1,1102.2 369.3,1096.1 C370.6,1090.1 373.1,1086.5 373.5,1079.6 C373.9,1072.7 372.9,1061.7 371.8,1054.7 C370.7,1047.7 367.7,1040.2 366.9,1037.3"/>
<path fill="none" stroke="#c2156c" stroke-width="3.00" stroke-linecap="round" stroke-linejoin="round" d="M369.3,1095.3 L384.3,1086.2"/>
<path fill="none" stroke="#c2156c" stroke-width="2.35" stroke-linecap="round" stroke-linejoin="round" d="M372.7,1077.9 L368.0,1066.3"/>
<path fill="none" stroke="#7283c8" stroke-width="3.20" stroke-linecap="round" stroke-linejoin="round" d="M390.3,1167.2 C390.2,1160.6 388.8,1137.3 389.6,1128.0 C390.3,1118.7 392.8,1116.5 394.8,1111.4 C396.9,1106.4 400.4,1103.4 401.6,1097.9 C402.9,1092.4 402.9,1083.6 402.4,1078.3 C401.9,1073.0 400.7,1070.0 398.6,1066.3 C396.5,1062.5 392.0,1059.0 389.6,1055.7 C387.2,1052.5 384.9,1049.3 384.3,1046.7 C383.7,1044.1 385.1,1041.8 385.8,1039.9 C386.6,1038.0 387.7,1037.1 388.8,1035.4 C390.0,1033.6 390.8,1030.7 392.6,1029.4 C394.3,1028.0 398.2,1027.5 399.4,1027.1"/>
<path fill="none" stroke="#7283c8" stroke-width="2.80" stroke-linecap="round" stroke-linejoin="round" d="M394.8,1111.4 C393.7,1109.2 389.1,1103.9 388.1,1097.9 C387.1,1091.9 388.7,1079.1 388.8,1075.3"/>
<path fill="none" stroke="#7283c8" stroke-width="2.60" stroke-linecap="round" stroke-linejoin="round" d="M388.8,1035.4 C390.1,1035.8 394.6,1036.3 396.4,1037.7 C398.1,1039.0 399.6,1040.9 399.4,1043.7 C399.1,1046.4 395.6,1052.5 394.8,1054.2"/>
<path fill="none" stroke="#c2156c" stroke-width="3.40" stroke-linecap="round" stroke-linejoin="round" d="M407.5,1168.2 C407.0,1165.1 405.4,1155.1 405.0,1149.2 C404.6,1143.2 403.9,1138.1 405.0,1132.6 C406.1,1127.1 408.8,1121.5 411.6,1116.0 C414.4,1110.5 419.1,1105.5 421.5,1099.4 C424.0,1093.4 426.0,1087.0 426.5,1079.6 C427.1,1072.1 425.8,1061.3 424.9,1054.7 C423.9,1048.1 420.7,1043.8 420.7,1039.8 C420.7,1035.8 424.2,1032.2 424.9,1030.7"/>
<path fill="none" stroke="#c2156c" stroke-width="2.80" stroke-linecap="round" stroke-linejoin="round" d="M416.6,1112.7 C418.5,1109.4 425.8,1099.2 428.2,1092.8 C430.5,1086.5 430.5,1080.9 430.7,1074.6 C430.8,1068.2 429.3,1058.0 429.0,1054.7"/>
<path fill="none" stroke="#c2156c" stroke-width="2.55" stroke-linecap="round" stroke-linejoin="round" d="M400.0,1059.7 C401.7,1060.4 406.6,1063.0 409.9,1063.8 C413.3,1064.6 417.4,1063.7 419.9,1064.6 C422.4,1065.6 424.0,1068.8 424.9,1069.6"/>
<path fill="none" stroke="#7283c8" stroke-width="3.00" stroke-linecap="round" stroke-linejoin="round" d="M435.6,1168.2 C435.4,1165.1 434.1,1155.1 434.0,1149.2 C433.8,1143.2 433.6,1138.1 434.8,1132.6 C436.0,1127.1 439.9,1121.5 441.4,1116.0 C443.0,1110.5 443.4,1103.6 443.9,1099.4 C444.5,1095.3 444.6,1092.5 444.8,1091.2"/>
<path fill="none" stroke="#7283c8" stroke-width="2.35" stroke-linecap="round" stroke-linejoin="round" d="M444.4,1094.5 L437.3,1090.8"/>
<path fill="none" stroke="#c2156c" stroke-width="3.40" stroke-linecap="round" stroke-linejoin="round" d="M478.7,1168.2 C478.6,1165.1 478.9,1154.6 477.9,1149.2 C476.9,1143.8 475.1,1139.5 472.9,1135.9 C470.7,1132.3 465.9,1130.9 464.6,1127.6 C463.4,1124.3 464.1,1119.6 465.5,1116.0 C466.9,1112.4 472.2,1109.9 472.9,1106.1 C473.6,1102.2 471.0,1097.2 469.6,1092.8 C468.2,1088.4 468.0,1083.7 464.6,1079.6 C461.3,1075.4 452.9,1072.9 449.7,1068.0 C446.5,1063.0 445.9,1055.2 445.6,1049.7 C445.3,1044.2 448.1,1039.8 448.1,1034.8 C448.1,1029.8 446.0,1022.4 445.6,1019.9"/>
<path fill="none" stroke="#c2156c" stroke-width="2.80" stroke-linecap="round" stroke-linejoin="round" d="M448.1,1034.8 L459.7,1029.8"/>
<path fill="none" stroke="#c2156c" stroke-width="2.60" stroke-linecap="round" stroke-linejoin="round" d="M464.6,1127.6 C463.3,1127.1 459.0,1126.0 456.4,1124.3 C453.7,1122.7 450.1,1118.8 448.9,1117.7"/>
<path fill="none" stroke="#c2156c" stroke-width="2.55" stroke-linecap="round" stroke-linejoin="round" d="M463.8,1077.9 C463.7,1076.5 462.3,1072.2 463.0,1069.6 C463.7,1067.0 467.1,1063.4 468.0,1062.2"/>
<path fill="none" stroke="#c2156c" stroke-width="2.55" stroke-linecap="round" stroke-linejoin="round" d="M472.9,1106.1 C473.2,1104.7 474.7,1100.6 474.6,1097.8 C474.4,1095.0 472.5,1090.9 472.1,1089.5"/>
<path fill="none" stroke="#7283c8" stroke-width="3.20" stroke-linecap="round" stroke-linejoin="round" d="M496.1,1168.2 C495.6,1165.1 493.4,1154.6 492.8,1149.2 C492.3,1143.8 491.4,1139.8 492.8,1135.9 C494.2,1132.0 499.3,1130.7 501.1,1126.0 C502.9,1121.3 503.5,1114.4 503.6,1107.7 C503.7,1101.1 502.9,1092.3 501.9,1086.2 C501.0,1080.1 498.2,1076.2 497.8,1071.3 C497.4,1066.3 498.6,1060.5 499.4,1056.4 C500.3,1052.2 503.0,1049.6 502.8,1046.4 C502.5,1043.2 499.9,1039.2 497.8,1037.3 C495.7,1035.4 492.5,1034.1 490.3,1034.8 C488.1,1035.5 486.0,1038.4 484.5,1041.4 C483.0,1044.5 482.3,1050.1 481.2,1053.0 C480.1,1055.9 478.5,1057.9 477.9,1058.8"/>
<path fill="none" stroke="#7283c8" stroke-width="3.00" stroke-linecap="round" stroke-linejoin="round" d="M502.8,1046.4 C504.4,1045.0 510.8,1041.2 512.7,1038.1 C514.6,1035.1 514.8,1031.5 514.4,1028.2 C514.0,1024.9 510.9,1019.9 510.2,1018.2"/>
<path fill="none" stroke="#7283c8" stroke-width="2.55" stroke-linecap="round" stroke-linejoin="round" d="M490.3,1034.8 C490.2,1033.1 490.3,1027.2 489.5,1024.9 C488.7,1022.5 486.0,1021.4 485.4,1020.7"/>
<path fill="none" stroke="#7283c8" stroke-width="2.35" stroke-linecap="round" stroke-linejoin="round" d="M489.5,1024.9 L492.8,1016.6"/>
<path fill="none" stroke="#7283c8" stroke-width="2.35" stroke-linecap="round" stroke-linejoin="round" d="M501.9,1086.2 L509.4,1077.9"/>
<path fill="none" stroke="#7283c8" stroke-width="2.55" stroke-linecap="round" stroke-linejoin="round" d="M502.8,1102.8 C501.4,1102.5 496.3,1102.2 494.5,1101.1 C492.7,1100.0 492.4,1097.0 492.0,1096.1"/>
<path fill="none" stroke="#7283c8" stroke-width="2.35" stroke-linecap="round" stroke-linejoin="round" d="M499.4,1130.9 L508.6,1134.3"/>
<path fill="none" stroke="#c2156c" stroke-width="3.40" stroke-linecap="round" stroke-linejoin="round" d="M528.5,1168.2 C527.8,1165.1 525.0,1156.5 524.3,1149.2 C523.6,1141.9 523.6,1132.3 524.3,1124.3 C525.0,1116.3 528.3,1108.0 528.5,1101.1 C528.6,1094.2 525.3,1089.2 525.1,1082.9 C525.0,1076.5 526.9,1069.9 527.6,1063.0 C528.3,1056.1 528.7,1047.8 529.3,1041.4 C529.8,1035.1 530.7,1029.3 530.9,1024.9 C531.2,1020.4 530.9,1016.6 530.9,1014.9"/>
<path fill="none" stroke="#c2156c" stroke-width="2.80" stroke-linecap="round" stroke-linejoin="round" d="M529.3,1041.4 L544.2,1036.5"/>
<path fill="none" stroke="#c2156c" stroke-width="3.20" stroke-linecap="round" stroke-linejoin="round" d="M528.5,1101.1 C530.5,1098.6 538.3,1092.0 540.9,1086.2 C543.5,1080.4 543.1,1073.5 544.2,1066.3 C545.3,1059.1 546.5,1047.8 547.5,1043.1 C548.5,1038.4 549.6,1039.0 550.0,1038.1"/>
<path fill="none" stroke="#c2156c" stroke-width="2.55" stroke-linecap="round" stroke-linejoin="round" d="M542.5,1072.9 L550.0,1071.3"/>
<path fill="none" stroke="#7283c8" stroke-width="3.00" stroke-linecap="round" stroke-linejoin="round" d="M540.9,1168.2 C541.7,1165.1 545.9,1154.6 545.9,1149.2 C545.9,1143.8 543.1,1139.8 540.9,1135.9 C538.7,1132.0 534.0,1127.6 532.6,1126.0"/>
<path fill="none" stroke="#7283c8" stroke-width="2.60" stroke-linecap="round" stroke-linejoin="round" d="M542.5,1137.6 C542.8,1132.6 543.6,1114.9 544.2,1107.7 C544.8,1100.6 545.6,1096.7 545.9,1094.5"/>
<path fill="none" stroke="#c2156c" stroke-width="3.40" stroke-linecap="round" stroke-linejoin="round" d="M579.0,1168.2 C578.9,1166.4 579.4,1162.0 578.2,1157.5 C576.9,1152.9 574.0,1145.6 571.5,1140.9 C569.1,1136.2 565.1,1134.0 563.3,1129.3 C561.4,1124.6 560.0,1117.7 560.3,1112.7 C560.6,1107.7 563.6,1103.9 564.9,1099.4 C566.2,1095.0 568.5,1090.9 568.2,1086.2 C568.0,1081.5 563.3,1076.5 563.3,1071.3 C563.3,1066.0 568.0,1059.4 568.2,1054.7 C568.5,1050.0 565.1,1047.2 564.9,1043.1 C564.8,1039.0 567.1,1033.4 567.4,1029.8 C567.7,1026.2 566.7,1022.9 566.6,1021.5"/>
<path fill="none" stroke="#c2156c" stroke-width="2.35" stroke-linecap="round" stroke-linejoin="round" d="M550.0,1071.3 L557.5,1069.6"/>
<path fill="none" stroke="#7283c8" stroke-width="3.00" stroke-linecap="round" stroke-linejoin="round" d="M596.4,1168.2 C596.1,1165.1 596.0,1154.6 594.8,1149.2 C593.5,1143.8 589.5,1139.8 589.0,1135.9 C588.4,1132.0 591.0,1129.0 591.4,1126.0 C591.9,1122.9 591.4,1119.1 591.4,1117.7"/>
<path fill="none" stroke="#7283c8" stroke-width="2.60" stroke-linecap="round" stroke-linejoin="round" d="M589.8,1127.6 L579.8,1123.5"/>
<path fill="none" stroke="#c2156c" stroke-width="3.40" stroke-linecap="round" stroke-linejoin="round" d="M616.3,1168.2 C616.2,1163.7 616.3,1146.3 615.5,1140.9 C614.6,1135.5 614.0,1137.3 611.3,1135.9 C608.7,1134.5 602.3,1134.8 599.7,1132.6 C597.1,1130.4 595.9,1126.0 595.6,1122.7 C595.3,1119.3 598.6,1116.0 598.1,1112.7 C597.5,1109.4 593.1,1106.1 592.3,1102.8 C591.4,1099.4 591.3,1095.0 593.1,1092.8 C594.9,1090.6 600.7,1091.7 603.0,1089.5 C605.4,1087.3 606.6,1084.0 607.2,1079.6 C607.7,1075.1 606.2,1068.0 606.4,1063.0 C606.5,1058.0 607.9,1054.7 608.0,1049.7 C608.1,1044.8 607.6,1037.3 607.2,1033.1 C606.8,1029.0 607.6,1026.8 605.5,1024.9 C603.5,1022.9 596.8,1022.9 594.8,1021.5 C592.7,1020.2 593.6,1017.4 593.4,1016.6"/>
<path fill="none" stroke="#c2156c" stroke-width="3.00" stroke-linecap="round" stroke-linejoin="round" d="M615.5,1140.9 C615.7,1138.4 616.2,1130.7 617.1,1126.0 C618.1,1121.3 620.4,1117.7 621.3,1112.7 C622.1,1107.7 622.2,1101.9 622.1,1096.1 C622.0,1090.3 620.7,1080.9 620.4,1077.9"/>
<path fill="none" stroke="#c2156c" stroke-width="2.55" stroke-linecap="round" stroke-linejoin="round" d="M616.3,1126.0 L608.0,1114.4"/>
<path fill="none" stroke="#c2156c" stroke-width="2.15" stroke-linecap="round" stroke-linejoin="round" d="M607.2,1054.7 L598.1,1053.9"/>
<path fill="none" stroke="#7283c8" stroke-width="3.00" stroke-linecap="round" stroke-linejoin="round" d="M627.1,1168.2 C626.5,1165.1 624.4,1154.0 623.8,1149.2 C623.1,1144.3 622.2,1143.4 622.9,1139.2 C623.6,1135.1 626.2,1128.5 627.9,1124.3 C629.6,1120.2 632.2,1117.7 632.9,1114.4 C633.6,1111.0 632.2,1106.1 632.0,1104.4"/>
<path fill="none" stroke="#c2156c" stroke-width="3.20" stroke-linecap="round" stroke-linejoin="round" d="M642.0,1168.2 C641.0,1165.1 637.3,1153.5 636.2,1149.2 C635.1,1144.9 634.7,1145.3 635.4,1142.5 C636.0,1139.8 640.2,1136.2 640.3,1132.6 C640.5,1129.0 636.0,1124.9 636.2,1121.0 C636.3,1117.1 640.5,1112.4 641.2,1109.4 C641.9,1106.4 641.3,1106.1 640.3,1102.8 C639.4,1099.4 636.3,1095.0 635.4,1089.5 C634.4,1084.0 636.0,1074.9 634.5,1069.6 C633.0,1064.4 627.6,1059.9 626.2,1058.0"/>
<path fill="none" stroke="#c2156c" stroke-width="2.55" stroke-linecap="round" stroke-linejoin="round" d="M635.4,1142.5 L630.4,1137.6"/>
<path fill="none" stroke="#7283c8" stroke-width="3.00" stroke-linecap="round" stroke-linejoin="round" d="M652.8,1168.2 C652.3,1165.1 650.3,1155.1 650.3,1149.2 C650.3,1143.2 652.8,1136.7 652.8,1132.6 C652.8,1128.5 650.0,1127.6 650.3,1124.3 C650.6,1121.0 654.0,1116.0 654.4,1112.7 C654.8,1109.4 653.0,1105.8 652.8,1104.4"/>
<path fill="none" stroke="#c2156c" stroke-width="3.00" stroke-linecap="round" stroke-linejoin="round" d="M666.9,1168.2 C666.3,1165.6 663.7,1157.0 663.5,1152.5 C663.4,1147.9 665.9,1144.5 666.0,1140.9 C666.1,1137.3 664.4,1132.6 664.0,1130.9"/>
<path fill="none" stroke="#c2156c" stroke-width="2.35" stroke-linecap="round" stroke-linejoin="round" d="M664.4,1137.6 L658.6,1136.2"/>
<path fill="none" stroke="#7283c8" stroke-width="3.00" stroke-linecap="round" stroke-linejoin="round" d="M684.3,1168.2 C684.1,1165.1 684.0,1153.7 683.4,1149.2 C682.9,1144.6 682.5,1142.6 680.9,1140.9 C679.4,1139.2 675.4,1139.2 674.3,1138.9"/>
<path fill="none" stroke="#c2156c" stroke-width="3.20" stroke-linecap="round" stroke-linejoin="round" d="M709.9,1168.2 C709.4,1166.7 707.9,1161.7 706.6,1159.1 C705.4,1156.5 703.6,1154.1 702.5,1152.5 C701.4,1150.8 701.4,1151.1 700.0,1149.2 C698.6,1147.2 695.7,1142.8 694.2,1140.9 C692.7,1139.0 691.4,1138.1 690.9,1137.6"/>
<path fill="none" stroke="#c2156c" stroke-width="2.60" stroke-linecap="round" stroke-linejoin="round" d="M704.1,1154.1 C705.0,1153.0 708.1,1149.4 709.1,1147.5 C710.1,1145.6 709.8,1143.4 709.9,1142.5"/>
</g>
<path class="ax" d="M119.6,1169.2 H715.5 M119.8,1169.2 v3.9 M137.8,1169.2 v3.9 M155.9,1169.2 v3.9 M173.9,1169.2 v3.9 M191.9,1169.2 v3.9 M209.9,1169.2 v3.9 M228.0,1169.2 v3.9 M246.0,1169.2 v3.9 M264.0,1169.2 v3.9 M282.1,1169.2 v3.9 M300.1,1169.2 v3.9 M318.1,1169.2 v3.9 M336.2,1169.2 v3.9 M354.2,1169.2 v3.9 M372.2,1169.2 v3.9 M390.3,1169.2 v3.9 M408.3,1169.2 v3.9 M426.3,1169.2 v3.9 M444.3,1169.2 v3.9 M462.4,1169.2 v3.9 M480.4,1169.2 v3.9 M498.4,1169.2 v3.9 M516.5,1169.2 v3.9 M534.5,1169.2 v3.9 M552.5,1169.2 v3.9 M570.5,1169.2 v3.9 M588.6,1169.2 v3.9 M606.6,1169.2 v3.9 M624.6,1169.2 v3.9 M642.7,1169.2 v3.9 M660.7,1169.2 v3.9 M678.7,1169.2 v3.9 M696.8,1169.2 v3.9 M714.8,1169.2 v3.9"/>

<path class="br" d="M106.7,1020.4 H102.4 Q99,1020.4 99,1023.8 V1078.2 Q99,1081.2 91.3,1081.2 Q99,1081.2 99,1084.2 V1139.8 Q99,1143.2 102.4,1143.2 H106.7"/>
<path class="br" d="M106.7,1143.2 H102.4 Q99,1143.2 99,1146.6000000000001 V1152.5 Q99,1155.5 91.3,1155.5 Q99,1155.5 99,1158.5 V1164.6 Q99,1168 102.4,1168 H106.7"/>
<text x="81.6" y="1080.8" text-anchor="end">Functional</text>
<text x="81.6" y="1099.4" text-anchor="end">layer</text>
<text x="81.6" y="1162.3" text-anchor="end">Basal layer</text>
<text x="52.8" y="1191.2" textLength="27.6" lengthAdjust="spacing">Day</text>
<text x="130" y="1191.2" text-anchor="middle">1</text>
<text x="200" y="1191.2" text-anchor="middle">5</text>
<text x="290" y="1191.2" text-anchor="middle">10</text>
<text x="362.5" y="1191.2" text-anchor="middle">14</text>
<text x="615" y="1191.2" text-anchor="middle">28</text>
<text x="634" y="1191.2" text-anchor="middle">1</text>
<text x="706.5" y="1191.2" text-anchor="middle">5</text>
<path class="br" d="M748.8,1004.3 H752.4 Q756,1004.3 756,1007.9 V1079.2 Q756,1082.4 763.2,1082.4 Q756,1082.4 756,1085.6000000000001 V1168.3000000000002 Q756,1171.9 752.4,1171.9 H748.8"/>
<text x="769.2" y="1077.2">ENDOMETRIAL</text>
<text x="769.2" y="1096">CYCLE</text>
</svg>
</body>
</html>
